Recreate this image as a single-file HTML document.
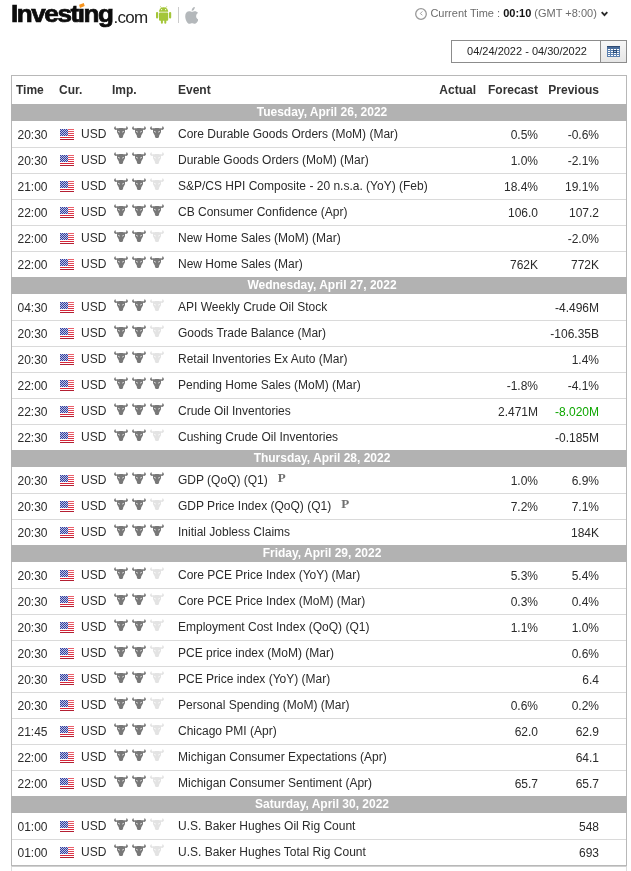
<!DOCTYPE html>
<html><head><meta charset="utf-8"><title>Economic Calendar</title>
<style>
*{box-sizing:border-box}
html,body{margin:0;padding:0;background:#fff}
body{width:631px;height:871px;position:relative;overflow:hidden;font-family:"Liberation Sans",Arial,sans-serif;font-size:12px;color:#2b2b2b}
#logo{position:absolute;left:12px;top:0;height:30px;white-space:nowrap}
#logo .inv{position:absolute;left:-0.7px;top:-1.3px;font-weight:bold;font-size:23.7px;line-height:30px;letter-spacing:-1.3px;color:#0c0c0c;-webkit-text-stroke:0.7px #0c0c0c;transform:scaleX(1.1);transform-origin:0 0}
#logo .com{position:absolute;left:101.5px;top:3px;font-size:17px;line-height:30px;color:#222;letter-spacing:-0.75px}
#logo .acc{position:absolute;left:67.3px;top:2.6px;width:6px;height:5px}
#android{position:absolute;left:156px;top:6px}
#sep{position:absolute;left:178px;top:7px;width:1px;height:16px;background:#ccc}
#apple{position:absolute;left:184.6px;top:6.5px}
#ct{position:absolute;left:415px;top:7px;height:14px;font-size:11px;line-height:14px;color:#6c6c6c;white-space:nowrap}
#ct svg{position:absolute;left:0;top:1px}
#ct .tx{position:absolute;left:15.4px;top:-1px}
#ct b{color:#111}
#ct .chev{position:absolute;left:186px;top:4px}
#dp{position:absolute;left:451px;top:40px;width:176px;height:23px;border:1px solid #8c8c8c;background:#fff}
#dp .v{position:absolute;left:1px;top:0;width:148px;height:21px;line-height:21px;text-align:center;font-size:11px;color:#222}
#dp .btn{position:absolute;left:148px;top:0;width:26px;height:21px;border-left:1px solid #8c8c8c;background:linear-gradient(#f7f7f7,#e6e6e6)}
#dp .btn svg{position:absolute;left:6px;top:5px}
#tbl{position:absolute;left:11px;top:75px;width:616px;height:791px;border:1px solid #b8b8b8}
#ft{position:absolute;left:11px;top:866px;width:616px;height:10px;border:1px solid #dcdcdc;border-top-color:#d0d0d0}
.hd{height:28px;position:relative;font-weight:bold;line-height:28px;color:#333}
.hd span{position:absolute;top:0}
.day{height:17px;background:#b2b2b2;color:#fff;font-weight:bold;text-align:center;line-height:17px;margin:0 -1px;padding-left:6px}
.r{height:26px;position:relative;border-top:1px solid #dadada;line-height:24px;white-space:nowrap}
.r.first{border-top-color:#fff}
.r>span{position:absolute;top:0;height:24px}
.r .t{left:5.5px;top:1px}
.fl{position:absolute;left:48px;top:7px}
.r .c{left:69px}
.r .imp{left:102px;top:4px;height:12px;line-height:0}
.imp svg{position:absolute;top:0}
.imp svg:nth-child(1){left:0}
.imp svg:nth-child(2){left:18px}
.imp svg:nth-child(3){left:36px}
.b1 path{fill:#787878}.b0 path{fill:#e3e3e3}
.b1 .e,.b0 .e{fill:#fff}
.r .ev{left:166px}
.r .a{right:150px;top:1px}
.r .f{right:88px;top:1px}
.r .p{right:27px;top:1px}
.g{color:#0ea600}
.pm{font-family:"Liberation Serif",serif;font-weight:bold;font-size:13px;color:#707070;margin-left:10px;position:relative;top:-2px;line-height:1}
</style></head><body>
<div id="logo"><span class="inv">Invest&#305;ng</span><svg class="acc" viewBox="0 0 6 5"><path d="M0.1,1.8 L4.8,0 L5.7,3 L1,5 Z" fill="#f7941d"/></svg><span class="com">.com</span></div>
<svg id="android" width="16" height="18" viewBox="0 0 16 18"><g fill="#a4c639"><path d="M3,5.7 A4.6,4.4 0 0 1 12.2,5.7 Z"/><rect x="3" y="6.4" width="9.2" height="8.4" rx="1"/><rect x="0" y="6" width="2.2" height="6.6" rx="1.1"/><rect x="13" y="6" width="2.2" height="6.6" rx="1.1"/><rect x="4.9" y="13" width="2" height="4.8" rx="1"/><rect x="8.3" y="13" width="2" height="4.8" rx="1"/><path d="M4.3,0.2 L5.6,2 M10.9,0.2 L9.6,2" stroke="#a4c639" stroke-width="0.6" fill="none"/></g><circle cx="5.6" cy="3.6" r="0.6" fill="#fff"/><circle cx="9.6" cy="3.6" r="0.6" fill="#fff"/></svg>
<div id="sep"></div>
<svg id="apple" width="13.8" height="17" viewBox="0 0 13 16"><g fill="#b4b8bb"><path d="M9.3,3.9 C8.4,3.9 7.4,4.5 6.7,4.5 C6,4.5 5,3.9 4,3.9 C2,3.9 0.2,5.6 0.2,8.6 C0.2,11.9 2.4,15.8 4.2,15.8 C5,15.8 5.7,15.2 6.7,15.2 C7.7,15.2 8.2,15.8 9.2,15.8 C10.8,15.8 12.2,13.2 12.7,11.8 C11.3,11.2 10.5,10 10.5,8.6 C10.5,7.3 11.2,6.2 12.3,5.6 C11.6,4.5 10.4,3.9 9.3,3.9 Z"/><path d="M9.2,0 C9.3,1 8.9,1.9 8.4,2.5 C7.9,3.1 7.1,3.6 6.3,3.5 C6.2,2.6 6.6,1.7 7.1,1.1 C7.6,0.5 8.5,0.05 9.2,0 Z"/></g></svg>
<div id="ct"><svg width="12" height="12" viewBox="0 0 12 12"><circle cx="6" cy="6" r="5.3" fill="none" stroke="#999" stroke-width="1.3"/><path d="M7.4,3.4 L5.3,5.5 L7.4,7.2" fill="none" stroke="#999" stroke-width="0.9"/></svg><span class="tx">Current Time : <b>00:10</b> (GMT +8:00)</span><svg class="chev" width="7" height="6" viewBox="0 0 7 6"><path d="M0.7,1.2 L3.5,4.2 L6.3,1.2" fill="none" stroke="#2a2a2a" stroke-width="1.8"/></svg></div>
<div id="dp"><div class="v">04/24/2022 - 04/30/2022</div><div class="btn"><svg width="13" height="11" viewBox="0 0 13 11"><rect width="13" height="11" fill="#5b80b0"/><rect width="13" height="1" fill="#2d4a73"/><rect y="1" width="13" height="2" fill="#4a6d9c"/><g fill="#fff"><rect x="1" y="3" width="2" height="1"/><rect x="4" y="3" width="2" height="1"/><rect x="7" y="3" width="2" height="1"/><rect x="10" y="3" width="2" height="1"/><rect x="1" y="5" width="2" height="1"/><rect x="4" y="5" width="2" height="1"/><rect x="10" y="5" width="2" height="1"/><rect x="1" y="7" width="2" height="1"/><rect x="4" y="7" width="2" height="1"/><rect x="7" y="7" width="2" height="1"/><rect x="10" y="7" width="2" height="1"/><rect x="1" y="9" width="2" height="1"/><rect x="4" y="9" width="2" height="1"/><rect x="7" y="9" width="2" height="1"/><rect x="10" y="9" width="2" height="1"/></g><rect x="6.5" y="4.5" width="3" height="2" fill="#9cc4f0" stroke="#2d4a73" stroke-width="1"/></svg></div></div>
<div id="tbl">
<div class="hd"><span style="left:4px">Time</span><span style="left:47px">Cur.</span><span style="left:100px">Imp.</span><span style="left:166px">Event</span><span style="right:150px">Actual</span><span style="right:88px">Forecast</span><span style="right:27px">Previous</span></div>
<div class="day">Tuesday, April 26, 2022</div>
<div class="r first"><span class="t">20:30</span><svg class="fl" viewBox="0 0 14 11" width="14" height="11"><rect width="14" height="11" fill="#fff"/><rect y="0" width="14" height="1" fill="#e9606b"/><rect y="2" width="14" height="1" fill="#e65764"/><rect y="4" width="14" height="1" fill="#e24858"/><rect y="6" width="14" height="1" fill="#de3448"/><rect y="8" width="14" height="1" fill="#d9283b"/><rect y="10" width="14" height="1" fill="#b41f32"/><rect width="8" height="7" fill="#343f9a"/><g fill="#b9bfe6"><rect x="1" y="0" width="1" height="1"/><rect x="3" y="0" width="1" height="1"/><rect x="5" y="0" width="1" height="1"/><rect x="7" y="0" width="1" height="1"/><rect x="0" y="1" width="1" height="1"/><rect x="2" y="1" width="1" height="1"/><rect x="4" y="1" width="1" height="1"/><rect x="6" y="1" width="1" height="1"/><rect x="1" y="2" width="1" height="1"/><rect x="3" y="2" width="1" height="1"/><rect x="5" y="2" width="1" height="1"/><rect x="7" y="2" width="1" height="1"/><rect x="0" y="3" width="1" height="1"/><rect x="2" y="3" width="1" height="1"/><rect x="4" y="3" width="1" height="1"/><rect x="6" y="3" width="1" height="1"/><rect x="1" y="4" width="1" height="1"/><rect x="3" y="4" width="1" height="1"/><rect x="5" y="4" width="1" height="1"/><rect x="7" y="4" width="1" height="1"/><rect x="0" y="5" width="1" height="1"/><rect x="2" y="5" width="1" height="1"/><rect x="4" y="5" width="1" height="1"/><rect x="6" y="5" width="1" height="1"/><rect x="1" y="6" width="1" height="1"/><rect x="3" y="6" width="1" height="1"/><rect x="5" y="6" width="1" height="1"/><rect x="7" y="6" width="1" height="1"/></g></svg><span class="c">USD</span><span class="imp"><svg class="b1" viewBox="0 0 14 12" width="14" height="12"><path d="M1.4,0 C0.5,0.8 -0.3,2.1 0.3,3.1 C0.9,4.1 2.2,4 3,3.8 L3,6.2 L4.8,9.4 L5,10.9 C5.4,11.9 6.3,12.1 7,12.1 C7.7,12.1 8.6,11.9 9,10.9 L9.2,9.4 L11,6.2 L11,3.8 C11.8,4 13.1,4.1 13.7,3.1 C14.3,2.1 13.5,0.8 12.6,0 C12.4,1 12.3,2 11.5,2.4 C10.5,2.2 9,1.9 7,1.9 C5,1.9 3.5,2.2 2.5,2.4 C1.7,2 1.6,1 1.4,0 Z"/><path class="e" d="M4.1,4.7 L6,5.9 L5.8,6.6 L4.3,5.8 Z M9.9,4.7 L8,5.9 L8.2,6.6 L9.7,5.8 Z"/></svg><svg class="b1" viewBox="0 0 14 12" width="14" height="12"><path d="M1.4,0 C0.5,0.8 -0.3,2.1 0.3,3.1 C0.9,4.1 2.2,4 3,3.8 L3,6.2 L4.8,9.4 L5,10.9 C5.4,11.9 6.3,12.1 7,12.1 C7.7,12.1 8.6,11.9 9,10.9 L9.2,9.4 L11,6.2 L11,3.8 C11.8,4 13.1,4.1 13.7,3.1 C14.3,2.1 13.5,0.8 12.6,0 C12.4,1 12.3,2 11.5,2.4 C10.5,2.2 9,1.9 7,1.9 C5,1.9 3.5,2.2 2.5,2.4 C1.7,2 1.6,1 1.4,0 Z"/><path class="e" d="M4.1,4.7 L6,5.9 L5.8,6.6 L4.3,5.8 Z M9.9,4.7 L8,5.9 L8.2,6.6 L9.7,5.8 Z"/></svg><svg class="b1" viewBox="0 0 14 12" width="14" height="12"><path d="M1.4,0 C0.5,0.8 -0.3,2.1 0.3,3.1 C0.9,4.1 2.2,4 3,3.8 L3,6.2 L4.8,9.4 L5,10.9 C5.4,11.9 6.3,12.1 7,12.1 C7.7,12.1 8.6,11.9 9,10.9 L9.2,9.4 L11,6.2 L11,3.8 C11.8,4 13.1,4.1 13.7,3.1 C14.3,2.1 13.5,0.8 12.6,0 C12.4,1 12.3,2 11.5,2.4 C10.5,2.2 9,1.9 7,1.9 C5,1.9 3.5,2.2 2.5,2.4 C1.7,2 1.6,1 1.4,0 Z"/><path class="e" d="M4.1,4.7 L6,5.9 L5.8,6.6 L4.3,5.8 Z M9.9,4.7 L8,5.9 L8.2,6.6 L9.7,5.8 Z"/></svg></span><span class="ev">Core Durable Goods Orders (MoM) (Mar)</span><span class="a"></span><span class="f">0.5%</span><span class="p">-0.6%</span></div>
<div class="r"><span class="t">20:30</span><svg class="fl" viewBox="0 0 14 11" width="14" height="11"><rect width="14" height="11" fill="#fff"/><rect y="0" width="14" height="1" fill="#e9606b"/><rect y="2" width="14" height="1" fill="#e65764"/><rect y="4" width="14" height="1" fill="#e24858"/><rect y="6" width="14" height="1" fill="#de3448"/><rect y="8" width="14" height="1" fill="#d9283b"/><rect y="10" width="14" height="1" fill="#b41f32"/><rect width="8" height="7" fill="#343f9a"/><g fill="#b9bfe6"><rect x="1" y="0" width="1" height="1"/><rect x="3" y="0" width="1" height="1"/><rect x="5" y="0" width="1" height="1"/><rect x="7" y="0" width="1" height="1"/><rect x="0" y="1" width="1" height="1"/><rect x="2" y="1" width="1" height="1"/><rect x="4" y="1" width="1" height="1"/><rect x="6" y="1" width="1" height="1"/><rect x="1" y="2" width="1" height="1"/><rect x="3" y="2" width="1" height="1"/><rect x="5" y="2" width="1" height="1"/><rect x="7" y="2" width="1" height="1"/><rect x="0" y="3" width="1" height="1"/><rect x="2" y="3" width="1" height="1"/><rect x="4" y="3" width="1" height="1"/><rect x="6" y="3" width="1" height="1"/><rect x="1" y="4" width="1" height="1"/><rect x="3" y="4" width="1" height="1"/><rect x="5" y="4" width="1" height="1"/><rect x="7" y="4" width="1" height="1"/><rect x="0" y="5" width="1" height="1"/><rect x="2" y="5" width="1" height="1"/><rect x="4" y="5" width="1" height="1"/><rect x="6" y="5" width="1" height="1"/><rect x="1" y="6" width="1" height="1"/><rect x="3" y="6" width="1" height="1"/><rect x="5" y="6" width="1" height="1"/><rect x="7" y="6" width="1" height="1"/></g></svg><span class="c">USD</span><span class="imp"><svg class="b1" viewBox="0 0 14 12" width="14" height="12"><path d="M1.4,0 C0.5,0.8 -0.3,2.1 0.3,3.1 C0.9,4.1 2.2,4 3,3.8 L3,6.2 L4.8,9.4 L5,10.9 C5.4,11.9 6.3,12.1 7,12.1 C7.7,12.1 8.6,11.9 9,10.9 L9.2,9.4 L11,6.2 L11,3.8 C11.8,4 13.1,4.1 13.7,3.1 C14.3,2.1 13.5,0.8 12.6,0 C12.4,1 12.3,2 11.5,2.4 C10.5,2.2 9,1.9 7,1.9 C5,1.9 3.5,2.2 2.5,2.4 C1.7,2 1.6,1 1.4,0 Z"/><path class="e" d="M4.1,4.7 L6,5.9 L5.8,6.6 L4.3,5.8 Z M9.9,4.7 L8,5.9 L8.2,6.6 L9.7,5.8 Z"/></svg><svg class="b1" viewBox="0 0 14 12" width="14" height="12"><path d="M1.4,0 C0.5,0.8 -0.3,2.1 0.3,3.1 C0.9,4.1 2.2,4 3,3.8 L3,6.2 L4.8,9.4 L5,10.9 C5.4,11.9 6.3,12.1 7,12.1 C7.7,12.1 8.6,11.9 9,10.9 L9.2,9.4 L11,6.2 L11,3.8 C11.8,4 13.1,4.1 13.7,3.1 C14.3,2.1 13.5,0.8 12.6,0 C12.4,1 12.3,2 11.5,2.4 C10.5,2.2 9,1.9 7,1.9 C5,1.9 3.5,2.2 2.5,2.4 C1.7,2 1.6,1 1.4,0 Z"/><path class="e" d="M4.1,4.7 L6,5.9 L5.8,6.6 L4.3,5.8 Z M9.9,4.7 L8,5.9 L8.2,6.6 L9.7,5.8 Z"/></svg><svg class="b0" viewBox="0 0 14 12" width="14" height="12"><path d="M1.4,0 C0.5,0.8 -0.3,2.1 0.3,3.1 C0.9,4.1 2.2,4 3,3.8 L3,6.2 L4.8,9.4 L5,10.9 C5.4,11.9 6.3,12.1 7,12.1 C7.7,12.1 8.6,11.9 9,10.9 L9.2,9.4 L11,6.2 L11,3.8 C11.8,4 13.1,4.1 13.7,3.1 C14.3,2.1 13.5,0.8 12.6,0 C12.4,1 12.3,2 11.5,2.4 C10.5,2.2 9,1.9 7,1.9 C5,1.9 3.5,2.2 2.5,2.4 C1.7,2 1.6,1 1.4,0 Z"/><path class="e" d="M4.1,4.7 L6,5.9 L5.8,6.6 L4.3,5.8 Z M9.9,4.7 L8,5.9 L8.2,6.6 L9.7,5.8 Z"/></svg></span><span class="ev">Durable Goods Orders (MoM) (Mar)</span><span class="a"></span><span class="f">1.0%</span><span class="p">-2.1%</span></div>
<div class="r"><span class="t">21:00</span><svg class="fl" viewBox="0 0 14 11" width="14" height="11"><rect width="14" height="11" fill="#fff"/><rect y="0" width="14" height="1" fill="#e9606b"/><rect y="2" width="14" height="1" fill="#e65764"/><rect y="4" width="14" height="1" fill="#e24858"/><rect y="6" width="14" height="1" fill="#de3448"/><rect y="8" width="14" height="1" fill="#d9283b"/><rect y="10" width="14" height="1" fill="#b41f32"/><rect width="8" height="7" fill="#343f9a"/><g fill="#b9bfe6"><rect x="1" y="0" width="1" height="1"/><rect x="3" y="0" width="1" height="1"/><rect x="5" y="0" width="1" height="1"/><rect x="7" y="0" width="1" height="1"/><rect x="0" y="1" width="1" height="1"/><rect x="2" y="1" width="1" height="1"/><rect x="4" y="1" width="1" height="1"/><rect x="6" y="1" width="1" height="1"/><rect x="1" y="2" width="1" height="1"/><rect x="3" y="2" width="1" height="1"/><rect x="5" y="2" width="1" height="1"/><rect x="7" y="2" width="1" height="1"/><rect x="0" y="3" width="1" height="1"/><rect x="2" y="3" width="1" height="1"/><rect x="4" y="3" width="1" height="1"/><rect x="6" y="3" width="1" height="1"/><rect x="1" y="4" width="1" height="1"/><rect x="3" y="4" width="1" height="1"/><rect x="5" y="4" width="1" height="1"/><rect x="7" y="4" width="1" height="1"/><rect x="0" y="5" width="1" height="1"/><rect x="2" y="5" width="1" height="1"/><rect x="4" y="5" width="1" height="1"/><rect x="6" y="5" width="1" height="1"/><rect x="1" y="6" width="1" height="1"/><rect x="3" y="6" width="1" height="1"/><rect x="5" y="6" width="1" height="1"/><rect x="7" y="6" width="1" height="1"/></g></svg><span class="c">USD</span><span class="imp"><svg class="b1" viewBox="0 0 14 12" width="14" height="12"><path d="M1.4,0 C0.5,0.8 -0.3,2.1 0.3,3.1 C0.9,4.1 2.2,4 3,3.8 L3,6.2 L4.8,9.4 L5,10.9 C5.4,11.9 6.3,12.1 7,12.1 C7.7,12.1 8.6,11.9 9,10.9 L9.2,9.4 L11,6.2 L11,3.8 C11.8,4 13.1,4.1 13.7,3.1 C14.3,2.1 13.5,0.8 12.6,0 C12.4,1 12.3,2 11.5,2.4 C10.5,2.2 9,1.9 7,1.9 C5,1.9 3.5,2.2 2.5,2.4 C1.7,2 1.6,1 1.4,0 Z"/><path class="e" d="M4.1,4.7 L6,5.9 L5.8,6.6 L4.3,5.8 Z M9.9,4.7 L8,5.9 L8.2,6.6 L9.7,5.8 Z"/></svg><svg class="b1" viewBox="0 0 14 12" width="14" height="12"><path d="M1.4,0 C0.5,0.8 -0.3,2.1 0.3,3.1 C0.9,4.1 2.2,4 3,3.8 L3,6.2 L4.8,9.4 L5,10.9 C5.4,11.9 6.3,12.1 7,12.1 C7.7,12.1 8.6,11.9 9,10.9 L9.2,9.4 L11,6.2 L11,3.8 C11.8,4 13.1,4.1 13.7,3.1 C14.3,2.1 13.5,0.8 12.6,0 C12.4,1 12.3,2 11.5,2.4 C10.5,2.2 9,1.9 7,1.9 C5,1.9 3.5,2.2 2.5,2.4 C1.7,2 1.6,1 1.4,0 Z"/><path class="e" d="M4.1,4.7 L6,5.9 L5.8,6.6 L4.3,5.8 Z M9.9,4.7 L8,5.9 L8.2,6.6 L9.7,5.8 Z"/></svg><svg class="b0" viewBox="0 0 14 12" width="14" height="12"><path d="M1.4,0 C0.5,0.8 -0.3,2.1 0.3,3.1 C0.9,4.1 2.2,4 3,3.8 L3,6.2 L4.8,9.4 L5,10.9 C5.4,11.9 6.3,12.1 7,12.1 C7.7,12.1 8.6,11.9 9,10.9 L9.2,9.4 L11,6.2 L11,3.8 C11.8,4 13.1,4.1 13.7,3.1 C14.3,2.1 13.5,0.8 12.6,0 C12.4,1 12.3,2 11.5,2.4 C10.5,2.2 9,1.9 7,1.9 C5,1.9 3.5,2.2 2.5,2.4 C1.7,2 1.6,1 1.4,0 Z"/><path class="e" d="M4.1,4.7 L6,5.9 L5.8,6.6 L4.3,5.8 Z M9.9,4.7 L8,5.9 L8.2,6.6 L9.7,5.8 Z"/></svg></span><span class="ev">S&amp;P/CS HPI Composite - 20 n.s.a. (YoY) (Feb)</span><span class="a"></span><span class="f">18.4%</span><span class="p">19.1%</span></div>
<div class="r"><span class="t">22:00</span><svg class="fl" viewBox="0 0 14 11" width="14" height="11"><rect width="14" height="11" fill="#fff"/><rect y="0" width="14" height="1" fill="#e9606b"/><rect y="2" width="14" height="1" fill="#e65764"/><rect y="4" width="14" height="1" fill="#e24858"/><rect y="6" width="14" height="1" fill="#de3448"/><rect y="8" width="14" height="1" fill="#d9283b"/><rect y="10" width="14" height="1" fill="#b41f32"/><rect width="8" height="7" fill="#343f9a"/><g fill="#b9bfe6"><rect x="1" y="0" width="1" height="1"/><rect x="3" y="0" width="1" height="1"/><rect x="5" y="0" width="1" height="1"/><rect x="7" y="0" width="1" height="1"/><rect x="0" y="1" width="1" height="1"/><rect x="2" y="1" width="1" height="1"/><rect x="4" y="1" width="1" height="1"/><rect x="6" y="1" width="1" height="1"/><rect x="1" y="2" width="1" height="1"/><rect x="3" y="2" width="1" height="1"/><rect x="5" y="2" width="1" height="1"/><rect x="7" y="2" width="1" height="1"/><rect x="0" y="3" width="1" height="1"/><rect x="2" y="3" width="1" height="1"/><rect x="4" y="3" width="1" height="1"/><rect x="6" y="3" width="1" height="1"/><rect x="1" y="4" width="1" height="1"/><rect x="3" y="4" width="1" height="1"/><rect x="5" y="4" width="1" height="1"/><rect x="7" y="4" width="1" height="1"/><rect x="0" y="5" width="1" height="1"/><rect x="2" y="5" width="1" height="1"/><rect x="4" y="5" width="1" height="1"/><rect x="6" y="5" width="1" height="1"/><rect x="1" y="6" width="1" height="1"/><rect x="3" y="6" width="1" height="1"/><rect x="5" y="6" width="1" height="1"/><rect x="7" y="6" width="1" height="1"/></g></svg><span class="c">USD</span><span class="imp"><svg class="b1" viewBox="0 0 14 12" width="14" height="12"><path d="M1.4,0 C0.5,0.8 -0.3,2.1 0.3,3.1 C0.9,4.1 2.2,4 3,3.8 L3,6.2 L4.8,9.4 L5,10.9 C5.4,11.9 6.3,12.1 7,12.1 C7.7,12.1 8.6,11.9 9,10.9 L9.2,9.4 L11,6.2 L11,3.8 C11.8,4 13.1,4.1 13.7,3.1 C14.3,2.1 13.5,0.8 12.6,0 C12.4,1 12.3,2 11.5,2.4 C10.5,2.2 9,1.9 7,1.9 C5,1.9 3.5,2.2 2.5,2.4 C1.7,2 1.6,1 1.4,0 Z"/><path class="e" d="M4.1,4.7 L6,5.9 L5.8,6.6 L4.3,5.8 Z M9.9,4.7 L8,5.9 L8.2,6.6 L9.7,5.8 Z"/></svg><svg class="b1" viewBox="0 0 14 12" width="14" height="12"><path d="M1.4,0 C0.5,0.8 -0.3,2.1 0.3,3.1 C0.9,4.1 2.2,4 3,3.8 L3,6.2 L4.8,9.4 L5,10.9 C5.4,11.9 6.3,12.1 7,12.1 C7.7,12.1 8.6,11.9 9,10.9 L9.2,9.4 L11,6.2 L11,3.8 C11.8,4 13.1,4.1 13.7,3.1 C14.3,2.1 13.5,0.8 12.6,0 C12.4,1 12.3,2 11.5,2.4 C10.5,2.2 9,1.9 7,1.9 C5,1.9 3.5,2.2 2.5,2.4 C1.7,2 1.6,1 1.4,0 Z"/><path class="e" d="M4.1,4.7 L6,5.9 L5.8,6.6 L4.3,5.8 Z M9.9,4.7 L8,5.9 L8.2,6.6 L9.7,5.8 Z"/></svg><svg class="b1" viewBox="0 0 14 12" width="14" height="12"><path d="M1.4,0 C0.5,0.8 -0.3,2.1 0.3,3.1 C0.9,4.1 2.2,4 3,3.8 L3,6.2 L4.8,9.4 L5,10.9 C5.4,11.9 6.3,12.1 7,12.1 C7.7,12.1 8.6,11.9 9,10.9 L9.2,9.4 L11,6.2 L11,3.8 C11.8,4 13.1,4.1 13.7,3.1 C14.3,2.1 13.5,0.8 12.6,0 C12.4,1 12.3,2 11.5,2.4 C10.5,2.2 9,1.9 7,1.9 C5,1.9 3.5,2.2 2.5,2.4 C1.7,2 1.6,1 1.4,0 Z"/><path class="e" d="M4.1,4.7 L6,5.9 L5.8,6.6 L4.3,5.8 Z M9.9,4.7 L8,5.9 L8.2,6.6 L9.7,5.8 Z"/></svg></span><span class="ev">CB Consumer Confidence (Apr)</span><span class="a"></span><span class="f">106.0</span><span class="p">107.2</span></div>
<div class="r"><span class="t">22:00</span><svg class="fl" viewBox="0 0 14 11" width="14" height="11"><rect width="14" height="11" fill="#fff"/><rect y="0" width="14" height="1" fill="#e9606b"/><rect y="2" width="14" height="1" fill="#e65764"/><rect y="4" width="14" height="1" fill="#e24858"/><rect y="6" width="14" height="1" fill="#de3448"/><rect y="8" width="14" height="1" fill="#d9283b"/><rect y="10" width="14" height="1" fill="#b41f32"/><rect width="8" height="7" fill="#343f9a"/><g fill="#b9bfe6"><rect x="1" y="0" width="1" height="1"/><rect x="3" y="0" width="1" height="1"/><rect x="5" y="0" width="1" height="1"/><rect x="7" y="0" width="1" height="1"/><rect x="0" y="1" width="1" height="1"/><rect x="2" y="1" width="1" height="1"/><rect x="4" y="1" width="1" height="1"/><rect x="6" y="1" width="1" height="1"/><rect x="1" y="2" width="1" height="1"/><rect x="3" y="2" width="1" height="1"/><rect x="5" y="2" width="1" height="1"/><rect x="7" y="2" width="1" height="1"/><rect x="0" y="3" width="1" height="1"/><rect x="2" y="3" width="1" height="1"/><rect x="4" y="3" width="1" height="1"/><rect x="6" y="3" width="1" height="1"/><rect x="1" y="4" width="1" height="1"/><rect x="3" y="4" width="1" height="1"/><rect x="5" y="4" width="1" height="1"/><rect x="7" y="4" width="1" height="1"/><rect x="0" y="5" width="1" height="1"/><rect x="2" y="5" width="1" height="1"/><rect x="4" y="5" width="1" height="1"/><rect x="6" y="5" width="1" height="1"/><rect x="1" y="6" width="1" height="1"/><rect x="3" y="6" width="1" height="1"/><rect x="5" y="6" width="1" height="1"/><rect x="7" y="6" width="1" height="1"/></g></svg><span class="c">USD</span><span class="imp"><svg class="b1" viewBox="0 0 14 12" width="14" height="12"><path d="M1.4,0 C0.5,0.8 -0.3,2.1 0.3,3.1 C0.9,4.1 2.2,4 3,3.8 L3,6.2 L4.8,9.4 L5,10.9 C5.4,11.9 6.3,12.1 7,12.1 C7.7,12.1 8.6,11.9 9,10.9 L9.2,9.4 L11,6.2 L11,3.8 C11.8,4 13.1,4.1 13.7,3.1 C14.3,2.1 13.5,0.8 12.6,0 C12.4,1 12.3,2 11.5,2.4 C10.5,2.2 9,1.9 7,1.9 C5,1.9 3.5,2.2 2.5,2.4 C1.7,2 1.6,1 1.4,0 Z"/><path class="e" d="M4.1,4.7 L6,5.9 L5.8,6.6 L4.3,5.8 Z M9.9,4.7 L8,5.9 L8.2,6.6 L9.7,5.8 Z"/></svg><svg class="b1" viewBox="0 0 14 12" width="14" height="12"><path d="M1.4,0 C0.5,0.8 -0.3,2.1 0.3,3.1 C0.9,4.1 2.2,4 3,3.8 L3,6.2 L4.8,9.4 L5,10.9 C5.4,11.9 6.3,12.1 7,12.1 C7.7,12.1 8.6,11.9 9,10.9 L9.2,9.4 L11,6.2 L11,3.8 C11.8,4 13.1,4.1 13.7,3.1 C14.3,2.1 13.5,0.8 12.6,0 C12.4,1 12.3,2 11.5,2.4 C10.5,2.2 9,1.9 7,1.9 C5,1.9 3.5,2.2 2.5,2.4 C1.7,2 1.6,1 1.4,0 Z"/><path class="e" d="M4.1,4.7 L6,5.9 L5.8,6.6 L4.3,5.8 Z M9.9,4.7 L8,5.9 L8.2,6.6 L9.7,5.8 Z"/></svg><svg class="b0" viewBox="0 0 14 12" width="14" height="12"><path d="M1.4,0 C0.5,0.8 -0.3,2.1 0.3,3.1 C0.9,4.1 2.2,4 3,3.8 L3,6.2 L4.8,9.4 L5,10.9 C5.4,11.9 6.3,12.1 7,12.1 C7.7,12.1 8.6,11.9 9,10.9 L9.2,9.4 L11,6.2 L11,3.8 C11.8,4 13.1,4.1 13.7,3.1 C14.3,2.1 13.5,0.8 12.6,0 C12.4,1 12.3,2 11.5,2.4 C10.5,2.2 9,1.9 7,1.9 C5,1.9 3.5,2.2 2.5,2.4 C1.7,2 1.6,1 1.4,0 Z"/><path class="e" d="M4.1,4.7 L6,5.9 L5.8,6.6 L4.3,5.8 Z M9.9,4.7 L8,5.9 L8.2,6.6 L9.7,5.8 Z"/></svg></span><span class="ev">New Home Sales (MoM) (Mar)</span><span class="a"></span><span class="f"></span><span class="p">-2.0%</span></div>
<div class="r"><span class="t">22:00</span><svg class="fl" viewBox="0 0 14 11" width="14" height="11"><rect width="14" height="11" fill="#fff"/><rect y="0" width="14" height="1" fill="#e9606b"/><rect y="2" width="14" height="1" fill="#e65764"/><rect y="4" width="14" height="1" fill="#e24858"/><rect y="6" width="14" height="1" fill="#de3448"/><rect y="8" width="14" height="1" fill="#d9283b"/><rect y="10" width="14" height="1" fill="#b41f32"/><rect width="8" height="7" fill="#343f9a"/><g fill="#b9bfe6"><rect x="1" y="0" width="1" height="1"/><rect x="3" y="0" width="1" height="1"/><rect x="5" y="0" width="1" height="1"/><rect x="7" y="0" width="1" height="1"/><rect x="0" y="1" width="1" height="1"/><rect x="2" y="1" width="1" height="1"/><rect x="4" y="1" width="1" height="1"/><rect x="6" y="1" width="1" height="1"/><rect x="1" y="2" width="1" height="1"/><rect x="3" y="2" width="1" height="1"/><rect x="5" y="2" width="1" height="1"/><rect x="7" y="2" width="1" height="1"/><rect x="0" y="3" width="1" height="1"/><rect x="2" y="3" width="1" height="1"/><rect x="4" y="3" width="1" height="1"/><rect x="6" y="3" width="1" height="1"/><rect x="1" y="4" width="1" height="1"/><rect x="3" y="4" width="1" height="1"/><rect x="5" y="4" width="1" height="1"/><rect x="7" y="4" width="1" height="1"/><rect x="0" y="5" width="1" height="1"/><rect x="2" y="5" width="1" height="1"/><rect x="4" y="5" width="1" height="1"/><rect x="6" y="5" width="1" height="1"/><rect x="1" y="6" width="1" height="1"/><rect x="3" y="6" width="1" height="1"/><rect x="5" y="6" width="1" height="1"/><rect x="7" y="6" width="1" height="1"/></g></svg><span class="c">USD</span><span class="imp"><svg class="b1" viewBox="0 0 14 12" width="14" height="12"><path d="M1.4,0 C0.5,0.8 -0.3,2.1 0.3,3.1 C0.9,4.1 2.2,4 3,3.8 L3,6.2 L4.8,9.4 L5,10.9 C5.4,11.9 6.3,12.1 7,12.1 C7.7,12.1 8.6,11.9 9,10.9 L9.2,9.4 L11,6.2 L11,3.8 C11.8,4 13.1,4.1 13.7,3.1 C14.3,2.1 13.5,0.8 12.6,0 C12.4,1 12.3,2 11.5,2.4 C10.5,2.2 9,1.9 7,1.9 C5,1.9 3.5,2.2 2.5,2.4 C1.7,2 1.6,1 1.4,0 Z"/><path class="e" d="M4.1,4.7 L6,5.9 L5.8,6.6 L4.3,5.8 Z M9.9,4.7 L8,5.9 L8.2,6.6 L9.7,5.8 Z"/></svg><svg class="b1" viewBox="0 0 14 12" width="14" height="12"><path d="M1.4,0 C0.5,0.8 -0.3,2.1 0.3,3.1 C0.9,4.1 2.2,4 3,3.8 L3,6.2 L4.8,9.4 L5,10.9 C5.4,11.9 6.3,12.1 7,12.1 C7.7,12.1 8.6,11.9 9,10.9 L9.2,9.4 L11,6.2 L11,3.8 C11.8,4 13.1,4.1 13.7,3.1 C14.3,2.1 13.5,0.8 12.6,0 C12.4,1 12.3,2 11.5,2.4 C10.5,2.2 9,1.9 7,1.9 C5,1.9 3.5,2.2 2.5,2.4 C1.7,2 1.6,1 1.4,0 Z"/><path class="e" d="M4.1,4.7 L6,5.9 L5.8,6.6 L4.3,5.8 Z M9.9,4.7 L8,5.9 L8.2,6.6 L9.7,5.8 Z"/></svg><svg class="b1" viewBox="0 0 14 12" width="14" height="12"><path d="M1.4,0 C0.5,0.8 -0.3,2.1 0.3,3.1 C0.9,4.1 2.2,4 3,3.8 L3,6.2 L4.8,9.4 L5,10.9 C5.4,11.9 6.3,12.1 7,12.1 C7.7,12.1 8.6,11.9 9,10.9 L9.2,9.4 L11,6.2 L11,3.8 C11.8,4 13.1,4.1 13.7,3.1 C14.3,2.1 13.5,0.8 12.6,0 C12.4,1 12.3,2 11.5,2.4 C10.5,2.2 9,1.9 7,1.9 C5,1.9 3.5,2.2 2.5,2.4 C1.7,2 1.6,1 1.4,0 Z"/><path class="e" d="M4.1,4.7 L6,5.9 L5.8,6.6 L4.3,5.8 Z M9.9,4.7 L8,5.9 L8.2,6.6 L9.7,5.8 Z"/></svg></span><span class="ev">New Home Sales (Mar)</span><span class="a"></span><span class="f">762K</span><span class="p">772K</span></div>
<div class="day">Wednesday, April 27, 2022</div>
<div class="r first"><span class="t">04:30</span><svg class="fl" viewBox="0 0 14 11" width="14" height="11"><rect width="14" height="11" fill="#fff"/><rect y="0" width="14" height="1" fill="#e9606b"/><rect y="2" width="14" height="1" fill="#e65764"/><rect y="4" width="14" height="1" fill="#e24858"/><rect y="6" width="14" height="1" fill="#de3448"/><rect y="8" width="14" height="1" fill="#d9283b"/><rect y="10" width="14" height="1" fill="#b41f32"/><rect width="8" height="7" fill="#343f9a"/><g fill="#b9bfe6"><rect x="1" y="0" width="1" height="1"/><rect x="3" y="0" width="1" height="1"/><rect x="5" y="0" width="1" height="1"/><rect x="7" y="0" width="1" height="1"/><rect x="0" y="1" width="1" height="1"/><rect x="2" y="1" width="1" height="1"/><rect x="4" y="1" width="1" height="1"/><rect x="6" y="1" width="1" height="1"/><rect x="1" y="2" width="1" height="1"/><rect x="3" y="2" width="1" height="1"/><rect x="5" y="2" width="1" height="1"/><rect x="7" y="2" width="1" height="1"/><rect x="0" y="3" width="1" height="1"/><rect x="2" y="3" width="1" height="1"/><rect x="4" y="3" width="1" height="1"/><rect x="6" y="3" width="1" height="1"/><rect x="1" y="4" width="1" height="1"/><rect x="3" y="4" width="1" height="1"/><rect x="5" y="4" width="1" height="1"/><rect x="7" y="4" width="1" height="1"/><rect x="0" y="5" width="1" height="1"/><rect x="2" y="5" width="1" height="1"/><rect x="4" y="5" width="1" height="1"/><rect x="6" y="5" width="1" height="1"/><rect x="1" y="6" width="1" height="1"/><rect x="3" y="6" width="1" height="1"/><rect x="5" y="6" width="1" height="1"/><rect x="7" y="6" width="1" height="1"/></g></svg><span class="c">USD</span><span class="imp"><svg class="b1" viewBox="0 0 14 12" width="14" height="12"><path d="M1.4,0 C0.5,0.8 -0.3,2.1 0.3,3.1 C0.9,4.1 2.2,4 3,3.8 L3,6.2 L4.8,9.4 L5,10.9 C5.4,11.9 6.3,12.1 7,12.1 C7.7,12.1 8.6,11.9 9,10.9 L9.2,9.4 L11,6.2 L11,3.8 C11.8,4 13.1,4.1 13.7,3.1 C14.3,2.1 13.5,0.8 12.6,0 C12.4,1 12.3,2 11.5,2.4 C10.5,2.2 9,1.9 7,1.9 C5,1.9 3.5,2.2 2.5,2.4 C1.7,2 1.6,1 1.4,0 Z"/><path class="e" d="M4.1,4.7 L6,5.9 L5.8,6.6 L4.3,5.8 Z M9.9,4.7 L8,5.9 L8.2,6.6 L9.7,5.8 Z"/></svg><svg class="b1" viewBox="0 0 14 12" width="14" height="12"><path d="M1.4,0 C0.5,0.8 -0.3,2.1 0.3,3.1 C0.9,4.1 2.2,4 3,3.8 L3,6.2 L4.8,9.4 L5,10.9 C5.4,11.9 6.3,12.1 7,12.1 C7.7,12.1 8.6,11.9 9,10.9 L9.2,9.4 L11,6.2 L11,3.8 C11.8,4 13.1,4.1 13.7,3.1 C14.3,2.1 13.5,0.8 12.6,0 C12.4,1 12.3,2 11.5,2.4 C10.5,2.2 9,1.9 7,1.9 C5,1.9 3.5,2.2 2.5,2.4 C1.7,2 1.6,1 1.4,0 Z"/><path class="e" d="M4.1,4.7 L6,5.9 L5.8,6.6 L4.3,5.8 Z M9.9,4.7 L8,5.9 L8.2,6.6 L9.7,5.8 Z"/></svg><svg class="b0" viewBox="0 0 14 12" width="14" height="12"><path d="M1.4,0 C0.5,0.8 -0.3,2.1 0.3,3.1 C0.9,4.1 2.2,4 3,3.8 L3,6.2 L4.8,9.4 L5,10.9 C5.4,11.9 6.3,12.1 7,12.1 C7.7,12.1 8.6,11.9 9,10.9 L9.2,9.4 L11,6.2 L11,3.8 C11.8,4 13.1,4.1 13.7,3.1 C14.3,2.1 13.5,0.8 12.6,0 C12.4,1 12.3,2 11.5,2.4 C10.5,2.2 9,1.9 7,1.9 C5,1.9 3.5,2.2 2.5,2.4 C1.7,2 1.6,1 1.4,0 Z"/><path class="e" d="M4.1,4.7 L6,5.9 L5.8,6.6 L4.3,5.8 Z M9.9,4.7 L8,5.9 L8.2,6.6 L9.7,5.8 Z"/></svg></span><span class="ev">API Weekly Crude Oil Stock</span><span class="a"></span><span class="f"></span><span class="p">-4.496M</span></div>
<div class="r"><span class="t">20:30</span><svg class="fl" viewBox="0 0 14 11" width="14" height="11"><rect width="14" height="11" fill="#fff"/><rect y="0" width="14" height="1" fill="#e9606b"/><rect y="2" width="14" height="1" fill="#e65764"/><rect y="4" width="14" height="1" fill="#e24858"/><rect y="6" width="14" height="1" fill="#de3448"/><rect y="8" width="14" height="1" fill="#d9283b"/><rect y="10" width="14" height="1" fill="#b41f32"/><rect width="8" height="7" fill="#343f9a"/><g fill="#b9bfe6"><rect x="1" y="0" width="1" height="1"/><rect x="3" y="0" width="1" height="1"/><rect x="5" y="0" width="1" height="1"/><rect x="7" y="0" width="1" height="1"/><rect x="0" y="1" width="1" height="1"/><rect x="2" y="1" width="1" height="1"/><rect x="4" y="1" width="1" height="1"/><rect x="6" y="1" width="1" height="1"/><rect x="1" y="2" width="1" height="1"/><rect x="3" y="2" width="1" height="1"/><rect x="5" y="2" width="1" height="1"/><rect x="7" y="2" width="1" height="1"/><rect x="0" y="3" width="1" height="1"/><rect x="2" y="3" width="1" height="1"/><rect x="4" y="3" width="1" height="1"/><rect x="6" y="3" width="1" height="1"/><rect x="1" y="4" width="1" height="1"/><rect x="3" y="4" width="1" height="1"/><rect x="5" y="4" width="1" height="1"/><rect x="7" y="4" width="1" height="1"/><rect x="0" y="5" width="1" height="1"/><rect x="2" y="5" width="1" height="1"/><rect x="4" y="5" width="1" height="1"/><rect x="6" y="5" width="1" height="1"/><rect x="1" y="6" width="1" height="1"/><rect x="3" y="6" width="1" height="1"/><rect x="5" y="6" width="1" height="1"/><rect x="7" y="6" width="1" height="1"/></g></svg><span class="c">USD</span><span class="imp"><svg class="b1" viewBox="0 0 14 12" width="14" height="12"><path d="M1.4,0 C0.5,0.8 -0.3,2.1 0.3,3.1 C0.9,4.1 2.2,4 3,3.8 L3,6.2 L4.8,9.4 L5,10.9 C5.4,11.9 6.3,12.1 7,12.1 C7.7,12.1 8.6,11.9 9,10.9 L9.2,9.4 L11,6.2 L11,3.8 C11.8,4 13.1,4.1 13.7,3.1 C14.3,2.1 13.5,0.8 12.6,0 C12.4,1 12.3,2 11.5,2.4 C10.5,2.2 9,1.9 7,1.9 C5,1.9 3.5,2.2 2.5,2.4 C1.7,2 1.6,1 1.4,0 Z"/><path class="e" d="M4.1,4.7 L6,5.9 L5.8,6.6 L4.3,5.8 Z M9.9,4.7 L8,5.9 L8.2,6.6 L9.7,5.8 Z"/></svg><svg class="b1" viewBox="0 0 14 12" width="14" height="12"><path d="M1.4,0 C0.5,0.8 -0.3,2.1 0.3,3.1 C0.9,4.1 2.2,4 3,3.8 L3,6.2 L4.8,9.4 L5,10.9 C5.4,11.9 6.3,12.1 7,12.1 C7.7,12.1 8.6,11.9 9,10.9 L9.2,9.4 L11,6.2 L11,3.8 C11.8,4 13.1,4.1 13.7,3.1 C14.3,2.1 13.5,0.8 12.6,0 C12.4,1 12.3,2 11.5,2.4 C10.5,2.2 9,1.9 7,1.9 C5,1.9 3.5,2.2 2.5,2.4 C1.7,2 1.6,1 1.4,0 Z"/><path class="e" d="M4.1,4.7 L6,5.9 L5.8,6.6 L4.3,5.8 Z M9.9,4.7 L8,5.9 L8.2,6.6 L9.7,5.8 Z"/></svg><svg class="b0" viewBox="0 0 14 12" width="14" height="12"><path d="M1.4,0 C0.5,0.8 -0.3,2.1 0.3,3.1 C0.9,4.1 2.2,4 3,3.8 L3,6.2 L4.8,9.4 L5,10.9 C5.4,11.9 6.3,12.1 7,12.1 C7.7,12.1 8.6,11.9 9,10.9 L9.2,9.4 L11,6.2 L11,3.8 C11.8,4 13.1,4.1 13.7,3.1 C14.3,2.1 13.5,0.8 12.6,0 C12.4,1 12.3,2 11.5,2.4 C10.5,2.2 9,1.9 7,1.9 C5,1.9 3.5,2.2 2.5,2.4 C1.7,2 1.6,1 1.4,0 Z"/><path class="e" d="M4.1,4.7 L6,5.9 L5.8,6.6 L4.3,5.8 Z M9.9,4.7 L8,5.9 L8.2,6.6 L9.7,5.8 Z"/></svg></span><span class="ev">Goods Trade Balance (Mar)</span><span class="a"></span><span class="f"></span><span class="p">-106.35B</span></div>
<div class="r"><span class="t">20:30</span><svg class="fl" viewBox="0 0 14 11" width="14" height="11"><rect width="14" height="11" fill="#fff"/><rect y="0" width="14" height="1" fill="#e9606b"/><rect y="2" width="14" height="1" fill="#e65764"/><rect y="4" width="14" height="1" fill="#e24858"/><rect y="6" width="14" height="1" fill="#de3448"/><rect y="8" width="14" height="1" fill="#d9283b"/><rect y="10" width="14" height="1" fill="#b41f32"/><rect width="8" height="7" fill="#343f9a"/><g fill="#b9bfe6"><rect x="1" y="0" width="1" height="1"/><rect x="3" y="0" width="1" height="1"/><rect x="5" y="0" width="1" height="1"/><rect x="7" y="0" width="1" height="1"/><rect x="0" y="1" width="1" height="1"/><rect x="2" y="1" width="1" height="1"/><rect x="4" y="1" width="1" height="1"/><rect x="6" y="1" width="1" height="1"/><rect x="1" y="2" width="1" height="1"/><rect x="3" y="2" width="1" height="1"/><rect x="5" y="2" width="1" height="1"/><rect x="7" y="2" width="1" height="1"/><rect x="0" y="3" width="1" height="1"/><rect x="2" y="3" width="1" height="1"/><rect x="4" y="3" width="1" height="1"/><rect x="6" y="3" width="1" height="1"/><rect x="1" y="4" width="1" height="1"/><rect x="3" y="4" width="1" height="1"/><rect x="5" y="4" width="1" height="1"/><rect x="7" y="4" width="1" height="1"/><rect x="0" y="5" width="1" height="1"/><rect x="2" y="5" width="1" height="1"/><rect x="4" y="5" width="1" height="1"/><rect x="6" y="5" width="1" height="1"/><rect x="1" y="6" width="1" height="1"/><rect x="3" y="6" width="1" height="1"/><rect x="5" y="6" width="1" height="1"/><rect x="7" y="6" width="1" height="1"/></g></svg><span class="c">USD</span><span class="imp"><svg class="b1" viewBox="0 0 14 12" width="14" height="12"><path d="M1.4,0 C0.5,0.8 -0.3,2.1 0.3,3.1 C0.9,4.1 2.2,4 3,3.8 L3,6.2 L4.8,9.4 L5,10.9 C5.4,11.9 6.3,12.1 7,12.1 C7.7,12.1 8.6,11.9 9,10.9 L9.2,9.4 L11,6.2 L11,3.8 C11.8,4 13.1,4.1 13.7,3.1 C14.3,2.1 13.5,0.8 12.6,0 C12.4,1 12.3,2 11.5,2.4 C10.5,2.2 9,1.9 7,1.9 C5,1.9 3.5,2.2 2.5,2.4 C1.7,2 1.6,1 1.4,0 Z"/><path class="e" d="M4.1,4.7 L6,5.9 L5.8,6.6 L4.3,5.8 Z M9.9,4.7 L8,5.9 L8.2,6.6 L9.7,5.8 Z"/></svg><svg class="b1" viewBox="0 0 14 12" width="14" height="12"><path d="M1.4,0 C0.5,0.8 -0.3,2.1 0.3,3.1 C0.9,4.1 2.2,4 3,3.8 L3,6.2 L4.8,9.4 L5,10.9 C5.4,11.9 6.3,12.1 7,12.1 C7.7,12.1 8.6,11.9 9,10.9 L9.2,9.4 L11,6.2 L11,3.8 C11.8,4 13.1,4.1 13.7,3.1 C14.3,2.1 13.5,0.8 12.6,0 C12.4,1 12.3,2 11.5,2.4 C10.5,2.2 9,1.9 7,1.9 C5,1.9 3.5,2.2 2.5,2.4 C1.7,2 1.6,1 1.4,0 Z"/><path class="e" d="M4.1,4.7 L6,5.9 L5.8,6.6 L4.3,5.8 Z M9.9,4.7 L8,5.9 L8.2,6.6 L9.7,5.8 Z"/></svg><svg class="b0" viewBox="0 0 14 12" width="14" height="12"><path d="M1.4,0 C0.5,0.8 -0.3,2.1 0.3,3.1 C0.9,4.1 2.2,4 3,3.8 L3,6.2 L4.8,9.4 L5,10.9 C5.4,11.9 6.3,12.1 7,12.1 C7.7,12.1 8.6,11.9 9,10.9 L9.2,9.4 L11,6.2 L11,3.8 C11.8,4 13.1,4.1 13.7,3.1 C14.3,2.1 13.5,0.8 12.6,0 C12.4,1 12.3,2 11.5,2.4 C10.5,2.2 9,1.9 7,1.9 C5,1.9 3.5,2.2 2.5,2.4 C1.7,2 1.6,1 1.4,0 Z"/><path class="e" d="M4.1,4.7 L6,5.9 L5.8,6.6 L4.3,5.8 Z M9.9,4.7 L8,5.9 L8.2,6.6 L9.7,5.8 Z"/></svg></span><span class="ev">Retail Inventories Ex Auto (Mar)</span><span class="a"></span><span class="f"></span><span class="p">1.4%</span></div>
<div class="r"><span class="t">22:00</span><svg class="fl" viewBox="0 0 14 11" width="14" height="11"><rect width="14" height="11" fill="#fff"/><rect y="0" width="14" height="1" fill="#e9606b"/><rect y="2" width="14" height="1" fill="#e65764"/><rect y="4" width="14" height="1" fill="#e24858"/><rect y="6" width="14" height="1" fill="#de3448"/><rect y="8" width="14" height="1" fill="#d9283b"/><rect y="10" width="14" height="1" fill="#b41f32"/><rect width="8" height="7" fill="#343f9a"/><g fill="#b9bfe6"><rect x="1" y="0" width="1" height="1"/><rect x="3" y="0" width="1" height="1"/><rect x="5" y="0" width="1" height="1"/><rect x="7" y="0" width="1" height="1"/><rect x="0" y="1" width="1" height="1"/><rect x="2" y="1" width="1" height="1"/><rect x="4" y="1" width="1" height="1"/><rect x="6" y="1" width="1" height="1"/><rect x="1" y="2" width="1" height="1"/><rect x="3" y="2" width="1" height="1"/><rect x="5" y="2" width="1" height="1"/><rect x="7" y="2" width="1" height="1"/><rect x="0" y="3" width="1" height="1"/><rect x="2" y="3" width="1" height="1"/><rect x="4" y="3" width="1" height="1"/><rect x="6" y="3" width="1" height="1"/><rect x="1" y="4" width="1" height="1"/><rect x="3" y="4" width="1" height="1"/><rect x="5" y="4" width="1" height="1"/><rect x="7" y="4" width="1" height="1"/><rect x="0" y="5" width="1" height="1"/><rect x="2" y="5" width="1" height="1"/><rect x="4" y="5" width="1" height="1"/><rect x="6" y="5" width="1" height="1"/><rect x="1" y="6" width="1" height="1"/><rect x="3" y="6" width="1" height="1"/><rect x="5" y="6" width="1" height="1"/><rect x="7" y="6" width="1" height="1"/></g></svg><span class="c">USD</span><span class="imp"><svg class="b1" viewBox="0 0 14 12" width="14" height="12"><path d="M1.4,0 C0.5,0.8 -0.3,2.1 0.3,3.1 C0.9,4.1 2.2,4 3,3.8 L3,6.2 L4.8,9.4 L5,10.9 C5.4,11.9 6.3,12.1 7,12.1 C7.7,12.1 8.6,11.9 9,10.9 L9.2,9.4 L11,6.2 L11,3.8 C11.8,4 13.1,4.1 13.7,3.1 C14.3,2.1 13.5,0.8 12.6,0 C12.4,1 12.3,2 11.5,2.4 C10.5,2.2 9,1.9 7,1.9 C5,1.9 3.5,2.2 2.5,2.4 C1.7,2 1.6,1 1.4,0 Z"/><path class="e" d="M4.1,4.7 L6,5.9 L5.8,6.6 L4.3,5.8 Z M9.9,4.7 L8,5.9 L8.2,6.6 L9.7,5.8 Z"/></svg><svg class="b1" viewBox="0 0 14 12" width="14" height="12"><path d="M1.4,0 C0.5,0.8 -0.3,2.1 0.3,3.1 C0.9,4.1 2.2,4 3,3.8 L3,6.2 L4.8,9.4 L5,10.9 C5.4,11.9 6.3,12.1 7,12.1 C7.7,12.1 8.6,11.9 9,10.9 L9.2,9.4 L11,6.2 L11,3.8 C11.8,4 13.1,4.1 13.7,3.1 C14.3,2.1 13.5,0.8 12.6,0 C12.4,1 12.3,2 11.5,2.4 C10.5,2.2 9,1.9 7,1.9 C5,1.9 3.5,2.2 2.5,2.4 C1.7,2 1.6,1 1.4,0 Z"/><path class="e" d="M4.1,4.7 L6,5.9 L5.8,6.6 L4.3,5.8 Z M9.9,4.7 L8,5.9 L8.2,6.6 L9.7,5.8 Z"/></svg><svg class="b1" viewBox="0 0 14 12" width="14" height="12"><path d="M1.4,0 C0.5,0.8 -0.3,2.1 0.3,3.1 C0.9,4.1 2.2,4 3,3.8 L3,6.2 L4.8,9.4 L5,10.9 C5.4,11.9 6.3,12.1 7,12.1 C7.7,12.1 8.6,11.9 9,10.9 L9.2,9.4 L11,6.2 L11,3.8 C11.8,4 13.1,4.1 13.7,3.1 C14.3,2.1 13.5,0.8 12.6,0 C12.4,1 12.3,2 11.5,2.4 C10.5,2.2 9,1.9 7,1.9 C5,1.9 3.5,2.2 2.5,2.4 C1.7,2 1.6,1 1.4,0 Z"/><path class="e" d="M4.1,4.7 L6,5.9 L5.8,6.6 L4.3,5.8 Z M9.9,4.7 L8,5.9 L8.2,6.6 L9.7,5.8 Z"/></svg></span><span class="ev">Pending Home Sales (MoM) (Mar)</span><span class="a"></span><span class="f">-1.8%</span><span class="p">-4.1%</span></div>
<div class="r"><span class="t">22:30</span><svg class="fl" viewBox="0 0 14 11" width="14" height="11"><rect width="14" height="11" fill="#fff"/><rect y="0" width="14" height="1" fill="#e9606b"/><rect y="2" width="14" height="1" fill="#e65764"/><rect y="4" width="14" height="1" fill="#e24858"/><rect y="6" width="14" height="1" fill="#de3448"/><rect y="8" width="14" height="1" fill="#d9283b"/><rect y="10" width="14" height="1" fill="#b41f32"/><rect width="8" height="7" fill="#343f9a"/><g fill="#b9bfe6"><rect x="1" y="0" width="1" height="1"/><rect x="3" y="0" width="1" height="1"/><rect x="5" y="0" width="1" height="1"/><rect x="7" y="0" width="1" height="1"/><rect x="0" y="1" width="1" height="1"/><rect x="2" y="1" width="1" height="1"/><rect x="4" y="1" width="1" height="1"/><rect x="6" y="1" width="1" height="1"/><rect x="1" y="2" width="1" height="1"/><rect x="3" y="2" width="1" height="1"/><rect x="5" y="2" width="1" height="1"/><rect x="7" y="2" width="1" height="1"/><rect x="0" y="3" width="1" height="1"/><rect x="2" y="3" width="1" height="1"/><rect x="4" y="3" width="1" height="1"/><rect x="6" y="3" width="1" height="1"/><rect x="1" y="4" width="1" height="1"/><rect x="3" y="4" width="1" height="1"/><rect x="5" y="4" width="1" height="1"/><rect x="7" y="4" width="1" height="1"/><rect x="0" y="5" width="1" height="1"/><rect x="2" y="5" width="1" height="1"/><rect x="4" y="5" width="1" height="1"/><rect x="6" y="5" width="1" height="1"/><rect x="1" y="6" width="1" height="1"/><rect x="3" y="6" width="1" height="1"/><rect x="5" y="6" width="1" height="1"/><rect x="7" y="6" width="1" height="1"/></g></svg><span class="c">USD</span><span class="imp"><svg class="b1" viewBox="0 0 14 12" width="14" height="12"><path d="M1.4,0 C0.5,0.8 -0.3,2.1 0.3,3.1 C0.9,4.1 2.2,4 3,3.8 L3,6.2 L4.8,9.4 L5,10.9 C5.4,11.9 6.3,12.1 7,12.1 C7.7,12.1 8.6,11.9 9,10.9 L9.2,9.4 L11,6.2 L11,3.8 C11.8,4 13.1,4.1 13.7,3.1 C14.3,2.1 13.5,0.8 12.6,0 C12.4,1 12.3,2 11.5,2.4 C10.5,2.2 9,1.9 7,1.9 C5,1.9 3.5,2.2 2.5,2.4 C1.7,2 1.6,1 1.4,0 Z"/><path class="e" d="M4.1,4.7 L6,5.9 L5.8,6.6 L4.3,5.8 Z M9.9,4.7 L8,5.9 L8.2,6.6 L9.7,5.8 Z"/></svg><svg class="b1" viewBox="0 0 14 12" width="14" height="12"><path d="M1.4,0 C0.5,0.8 -0.3,2.1 0.3,3.1 C0.9,4.1 2.2,4 3,3.8 L3,6.2 L4.8,9.4 L5,10.9 C5.4,11.9 6.3,12.1 7,12.1 C7.7,12.1 8.6,11.9 9,10.9 L9.2,9.4 L11,6.2 L11,3.8 C11.8,4 13.1,4.1 13.7,3.1 C14.3,2.1 13.5,0.8 12.6,0 C12.4,1 12.3,2 11.5,2.4 C10.5,2.2 9,1.9 7,1.9 C5,1.9 3.5,2.2 2.5,2.4 C1.7,2 1.6,1 1.4,0 Z"/><path class="e" d="M4.1,4.7 L6,5.9 L5.8,6.6 L4.3,5.8 Z M9.9,4.7 L8,5.9 L8.2,6.6 L9.7,5.8 Z"/></svg><svg class="b1" viewBox="0 0 14 12" width="14" height="12"><path d="M1.4,0 C0.5,0.8 -0.3,2.1 0.3,3.1 C0.9,4.1 2.2,4 3,3.8 L3,6.2 L4.8,9.4 L5,10.9 C5.4,11.9 6.3,12.1 7,12.1 C7.7,12.1 8.6,11.9 9,10.9 L9.2,9.4 L11,6.2 L11,3.8 C11.8,4 13.1,4.1 13.7,3.1 C14.3,2.1 13.5,0.8 12.6,0 C12.4,1 12.3,2 11.5,2.4 C10.5,2.2 9,1.9 7,1.9 C5,1.9 3.5,2.2 2.5,2.4 C1.7,2 1.6,1 1.4,0 Z"/><path class="e" d="M4.1,4.7 L6,5.9 L5.8,6.6 L4.3,5.8 Z M9.9,4.7 L8,5.9 L8.2,6.6 L9.7,5.8 Z"/></svg></span><span class="ev">Crude Oil Inventories</span><span class="a"></span><span class="f">2.471M</span><span class="p g">-8.020M</span></div>
<div class="r"><span class="t">22:30</span><svg class="fl" viewBox="0 0 14 11" width="14" height="11"><rect width="14" height="11" fill="#fff"/><rect y="0" width="14" height="1" fill="#e9606b"/><rect y="2" width="14" height="1" fill="#e65764"/><rect y="4" width="14" height="1" fill="#e24858"/><rect y="6" width="14" height="1" fill="#de3448"/><rect y="8" width="14" height="1" fill="#d9283b"/><rect y="10" width="14" height="1" fill="#b41f32"/><rect width="8" height="7" fill="#343f9a"/><g fill="#b9bfe6"><rect x="1" y="0" width="1" height="1"/><rect x="3" y="0" width="1" height="1"/><rect x="5" y="0" width="1" height="1"/><rect x="7" y="0" width="1" height="1"/><rect x="0" y="1" width="1" height="1"/><rect x="2" y="1" width="1" height="1"/><rect x="4" y="1" width="1" height="1"/><rect x="6" y="1" width="1" height="1"/><rect x="1" y="2" width="1" height="1"/><rect x="3" y="2" width="1" height="1"/><rect x="5" y="2" width="1" height="1"/><rect x="7" y="2" width="1" height="1"/><rect x="0" y="3" width="1" height="1"/><rect x="2" y="3" width="1" height="1"/><rect x="4" y="3" width="1" height="1"/><rect x="6" y="3" width="1" height="1"/><rect x="1" y="4" width="1" height="1"/><rect x="3" y="4" width="1" height="1"/><rect x="5" y="4" width="1" height="1"/><rect x="7" y="4" width="1" height="1"/><rect x="0" y="5" width="1" height="1"/><rect x="2" y="5" width="1" height="1"/><rect x="4" y="5" width="1" height="1"/><rect x="6" y="5" width="1" height="1"/><rect x="1" y="6" width="1" height="1"/><rect x="3" y="6" width="1" height="1"/><rect x="5" y="6" width="1" height="1"/><rect x="7" y="6" width="1" height="1"/></g></svg><span class="c">USD</span><span class="imp"><svg class="b1" viewBox="0 0 14 12" width="14" height="12"><path d="M1.4,0 C0.5,0.8 -0.3,2.1 0.3,3.1 C0.9,4.1 2.2,4 3,3.8 L3,6.2 L4.8,9.4 L5,10.9 C5.4,11.9 6.3,12.1 7,12.1 C7.7,12.1 8.6,11.9 9,10.9 L9.2,9.4 L11,6.2 L11,3.8 C11.8,4 13.1,4.1 13.7,3.1 C14.3,2.1 13.5,0.8 12.6,0 C12.4,1 12.3,2 11.5,2.4 C10.5,2.2 9,1.9 7,1.9 C5,1.9 3.5,2.2 2.5,2.4 C1.7,2 1.6,1 1.4,0 Z"/><path class="e" d="M4.1,4.7 L6,5.9 L5.8,6.6 L4.3,5.8 Z M9.9,4.7 L8,5.9 L8.2,6.6 L9.7,5.8 Z"/></svg><svg class="b1" viewBox="0 0 14 12" width="14" height="12"><path d="M1.4,0 C0.5,0.8 -0.3,2.1 0.3,3.1 C0.9,4.1 2.2,4 3,3.8 L3,6.2 L4.8,9.4 L5,10.9 C5.4,11.9 6.3,12.1 7,12.1 C7.7,12.1 8.6,11.9 9,10.9 L9.2,9.4 L11,6.2 L11,3.8 C11.8,4 13.1,4.1 13.7,3.1 C14.3,2.1 13.5,0.8 12.6,0 C12.4,1 12.3,2 11.5,2.4 C10.5,2.2 9,1.9 7,1.9 C5,1.9 3.5,2.2 2.5,2.4 C1.7,2 1.6,1 1.4,0 Z"/><path class="e" d="M4.1,4.7 L6,5.9 L5.8,6.6 L4.3,5.8 Z M9.9,4.7 L8,5.9 L8.2,6.6 L9.7,5.8 Z"/></svg><svg class="b0" viewBox="0 0 14 12" width="14" height="12"><path d="M1.4,0 C0.5,0.8 -0.3,2.1 0.3,3.1 C0.9,4.1 2.2,4 3,3.8 L3,6.2 L4.8,9.4 L5,10.9 C5.4,11.9 6.3,12.1 7,12.1 C7.7,12.1 8.6,11.9 9,10.9 L9.2,9.4 L11,6.2 L11,3.8 C11.8,4 13.1,4.1 13.7,3.1 C14.3,2.1 13.5,0.8 12.6,0 C12.4,1 12.3,2 11.5,2.4 C10.5,2.2 9,1.9 7,1.9 C5,1.9 3.5,2.2 2.5,2.4 C1.7,2 1.6,1 1.4,0 Z"/><path class="e" d="M4.1,4.7 L6,5.9 L5.8,6.6 L4.3,5.8 Z M9.9,4.7 L8,5.9 L8.2,6.6 L9.7,5.8 Z"/></svg></span><span class="ev">Cushing Crude Oil Inventories</span><span class="a"></span><span class="f"></span><span class="p">-0.185M</span></div>
<div class="day">Thursday, April 28, 2022</div>
<div class="r first"><span class="t">20:30</span><svg class="fl" viewBox="0 0 14 11" width="14" height="11"><rect width="14" height="11" fill="#fff"/><rect y="0" width="14" height="1" fill="#e9606b"/><rect y="2" width="14" height="1" fill="#e65764"/><rect y="4" width="14" height="1" fill="#e24858"/><rect y="6" width="14" height="1" fill="#de3448"/><rect y="8" width="14" height="1" fill="#d9283b"/><rect y="10" width="14" height="1" fill="#b41f32"/><rect width="8" height="7" fill="#343f9a"/><g fill="#b9bfe6"><rect x="1" y="0" width="1" height="1"/><rect x="3" y="0" width="1" height="1"/><rect x="5" y="0" width="1" height="1"/><rect x="7" y="0" width="1" height="1"/><rect x="0" y="1" width="1" height="1"/><rect x="2" y="1" width="1" height="1"/><rect x="4" y="1" width="1" height="1"/><rect x="6" y="1" width="1" height="1"/><rect x="1" y="2" width="1" height="1"/><rect x="3" y="2" width="1" height="1"/><rect x="5" y="2" width="1" height="1"/><rect x="7" y="2" width="1" height="1"/><rect x="0" y="3" width="1" height="1"/><rect x="2" y="3" width="1" height="1"/><rect x="4" y="3" width="1" height="1"/><rect x="6" y="3" width="1" height="1"/><rect x="1" y="4" width="1" height="1"/><rect x="3" y="4" width="1" height="1"/><rect x="5" y="4" width="1" height="1"/><rect x="7" y="4" width="1" height="1"/><rect x="0" y="5" width="1" height="1"/><rect x="2" y="5" width="1" height="1"/><rect x="4" y="5" width="1" height="1"/><rect x="6" y="5" width="1" height="1"/><rect x="1" y="6" width="1" height="1"/><rect x="3" y="6" width="1" height="1"/><rect x="5" y="6" width="1" height="1"/><rect x="7" y="6" width="1" height="1"/></g></svg><span class="c">USD</span><span class="imp"><svg class="b1" viewBox="0 0 14 12" width="14" height="12"><path d="M1.4,0 C0.5,0.8 -0.3,2.1 0.3,3.1 C0.9,4.1 2.2,4 3,3.8 L3,6.2 L4.8,9.4 L5,10.9 C5.4,11.9 6.3,12.1 7,12.1 C7.7,12.1 8.6,11.9 9,10.9 L9.2,9.4 L11,6.2 L11,3.8 C11.8,4 13.1,4.1 13.7,3.1 C14.3,2.1 13.5,0.8 12.6,0 C12.4,1 12.3,2 11.5,2.4 C10.5,2.2 9,1.9 7,1.9 C5,1.9 3.5,2.2 2.5,2.4 C1.7,2 1.6,1 1.4,0 Z"/><path class="e" d="M4.1,4.7 L6,5.9 L5.8,6.6 L4.3,5.8 Z M9.9,4.7 L8,5.9 L8.2,6.6 L9.7,5.8 Z"/></svg><svg class="b1" viewBox="0 0 14 12" width="14" height="12"><path d="M1.4,0 C0.5,0.8 -0.3,2.1 0.3,3.1 C0.9,4.1 2.2,4 3,3.8 L3,6.2 L4.8,9.4 L5,10.9 C5.4,11.9 6.3,12.1 7,12.1 C7.7,12.1 8.6,11.9 9,10.9 L9.2,9.4 L11,6.2 L11,3.8 C11.8,4 13.1,4.1 13.7,3.1 C14.3,2.1 13.5,0.8 12.6,0 C12.4,1 12.3,2 11.5,2.4 C10.5,2.2 9,1.9 7,1.9 C5,1.9 3.5,2.2 2.5,2.4 C1.7,2 1.6,1 1.4,0 Z"/><path class="e" d="M4.1,4.7 L6,5.9 L5.8,6.6 L4.3,5.8 Z M9.9,4.7 L8,5.9 L8.2,6.6 L9.7,5.8 Z"/></svg><svg class="b1" viewBox="0 0 14 12" width="14" height="12"><path d="M1.4,0 C0.5,0.8 -0.3,2.1 0.3,3.1 C0.9,4.1 2.2,4 3,3.8 L3,6.2 L4.8,9.4 L5,10.9 C5.4,11.9 6.3,12.1 7,12.1 C7.7,12.1 8.6,11.9 9,10.9 L9.2,9.4 L11,6.2 L11,3.8 C11.8,4 13.1,4.1 13.7,3.1 C14.3,2.1 13.5,0.8 12.6,0 C12.4,1 12.3,2 11.5,2.4 C10.5,2.2 9,1.9 7,1.9 C5,1.9 3.5,2.2 2.5,2.4 C1.7,2 1.6,1 1.4,0 Z"/><path class="e" d="M4.1,4.7 L6,5.9 L5.8,6.6 L4.3,5.8 Z M9.9,4.7 L8,5.9 L8.2,6.6 L9.7,5.8 Z"/></svg></span><span class="ev">GDP (QoQ) (Q1)<span class="pm">P</span></span><span class="a"></span><span class="f">1.0%</span><span class="p">6.9%</span></div>
<div class="r"><span class="t">20:30</span><svg class="fl" viewBox="0 0 14 11" width="14" height="11"><rect width="14" height="11" fill="#fff"/><rect y="0" width="14" height="1" fill="#e9606b"/><rect y="2" width="14" height="1" fill="#e65764"/><rect y="4" width="14" height="1" fill="#e24858"/><rect y="6" width="14" height="1" fill="#de3448"/><rect y="8" width="14" height="1" fill="#d9283b"/><rect y="10" width="14" height="1" fill="#b41f32"/><rect width="8" height="7" fill="#343f9a"/><g fill="#b9bfe6"><rect x="1" y="0" width="1" height="1"/><rect x="3" y="0" width="1" height="1"/><rect x="5" y="0" width="1" height="1"/><rect x="7" y="0" width="1" height="1"/><rect x="0" y="1" width="1" height="1"/><rect x="2" y="1" width="1" height="1"/><rect x="4" y="1" width="1" height="1"/><rect x="6" y="1" width="1" height="1"/><rect x="1" y="2" width="1" height="1"/><rect x="3" y="2" width="1" height="1"/><rect x="5" y="2" width="1" height="1"/><rect x="7" y="2" width="1" height="1"/><rect x="0" y="3" width="1" height="1"/><rect x="2" y="3" width="1" height="1"/><rect x="4" y="3" width="1" height="1"/><rect x="6" y="3" width="1" height="1"/><rect x="1" y="4" width="1" height="1"/><rect x="3" y="4" width="1" height="1"/><rect x="5" y="4" width="1" height="1"/><rect x="7" y="4" width="1" height="1"/><rect x="0" y="5" width="1" height="1"/><rect x="2" y="5" width="1" height="1"/><rect x="4" y="5" width="1" height="1"/><rect x="6" y="5" width="1" height="1"/><rect x="1" y="6" width="1" height="1"/><rect x="3" y="6" width="1" height="1"/><rect x="5" y="6" width="1" height="1"/><rect x="7" y="6" width="1" height="1"/></g></svg><span class="c">USD</span><span class="imp"><svg class="b1" viewBox="0 0 14 12" width="14" height="12"><path d="M1.4,0 C0.5,0.8 -0.3,2.1 0.3,3.1 C0.9,4.1 2.2,4 3,3.8 L3,6.2 L4.8,9.4 L5,10.9 C5.4,11.9 6.3,12.1 7,12.1 C7.7,12.1 8.6,11.9 9,10.9 L9.2,9.4 L11,6.2 L11,3.8 C11.8,4 13.1,4.1 13.7,3.1 C14.3,2.1 13.5,0.8 12.6,0 C12.4,1 12.3,2 11.5,2.4 C10.5,2.2 9,1.9 7,1.9 C5,1.9 3.5,2.2 2.5,2.4 C1.7,2 1.6,1 1.4,0 Z"/><path class="e" d="M4.1,4.7 L6,5.9 L5.8,6.6 L4.3,5.8 Z M9.9,4.7 L8,5.9 L8.2,6.6 L9.7,5.8 Z"/></svg><svg class="b1" viewBox="0 0 14 12" width="14" height="12"><path d="M1.4,0 C0.5,0.8 -0.3,2.1 0.3,3.1 C0.9,4.1 2.2,4 3,3.8 L3,6.2 L4.8,9.4 L5,10.9 C5.4,11.9 6.3,12.1 7,12.1 C7.7,12.1 8.6,11.9 9,10.9 L9.2,9.4 L11,6.2 L11,3.8 C11.8,4 13.1,4.1 13.7,3.1 C14.3,2.1 13.5,0.8 12.6,0 C12.4,1 12.3,2 11.5,2.4 C10.5,2.2 9,1.9 7,1.9 C5,1.9 3.5,2.2 2.5,2.4 C1.7,2 1.6,1 1.4,0 Z"/><path class="e" d="M4.1,4.7 L6,5.9 L5.8,6.6 L4.3,5.8 Z M9.9,4.7 L8,5.9 L8.2,6.6 L9.7,5.8 Z"/></svg><svg class="b0" viewBox="0 0 14 12" width="14" height="12"><path d="M1.4,0 C0.5,0.8 -0.3,2.1 0.3,3.1 C0.9,4.1 2.2,4 3,3.8 L3,6.2 L4.8,9.4 L5,10.9 C5.4,11.9 6.3,12.1 7,12.1 C7.7,12.1 8.6,11.9 9,10.9 L9.2,9.4 L11,6.2 L11,3.8 C11.8,4 13.1,4.1 13.7,3.1 C14.3,2.1 13.5,0.8 12.6,0 C12.4,1 12.3,2 11.5,2.4 C10.5,2.2 9,1.9 7,1.9 C5,1.9 3.5,2.2 2.5,2.4 C1.7,2 1.6,1 1.4,0 Z"/><path class="e" d="M4.1,4.7 L6,5.9 L5.8,6.6 L4.3,5.8 Z M9.9,4.7 L8,5.9 L8.2,6.6 L9.7,5.8 Z"/></svg></span><span class="ev">GDP Price Index (QoQ) (Q1)<span class="pm">P</span></span><span class="a"></span><span class="f">7.2%</span><span class="p">7.1%</span></div>
<div class="r"><span class="t">20:30</span><svg class="fl" viewBox="0 0 14 11" width="14" height="11"><rect width="14" height="11" fill="#fff"/><rect y="0" width="14" height="1" fill="#e9606b"/><rect y="2" width="14" height="1" fill="#e65764"/><rect y="4" width="14" height="1" fill="#e24858"/><rect y="6" width="14" height="1" fill="#de3448"/><rect y="8" width="14" height="1" fill="#d9283b"/><rect y="10" width="14" height="1" fill="#b41f32"/><rect width="8" height="7" fill="#343f9a"/><g fill="#b9bfe6"><rect x="1" y="0" width="1" height="1"/><rect x="3" y="0" width="1" height="1"/><rect x="5" y="0" width="1" height="1"/><rect x="7" y="0" width="1" height="1"/><rect x="0" y="1" width="1" height="1"/><rect x="2" y="1" width="1" height="1"/><rect x="4" y="1" width="1" height="1"/><rect x="6" y="1" width="1" height="1"/><rect x="1" y="2" width="1" height="1"/><rect x="3" y="2" width="1" height="1"/><rect x="5" y="2" width="1" height="1"/><rect x="7" y="2" width="1" height="1"/><rect x="0" y="3" width="1" height="1"/><rect x="2" y="3" width="1" height="1"/><rect x="4" y="3" width="1" height="1"/><rect x="6" y="3" width="1" height="1"/><rect x="1" y="4" width="1" height="1"/><rect x="3" y="4" width="1" height="1"/><rect x="5" y="4" width="1" height="1"/><rect x="7" y="4" width="1" height="1"/><rect x="0" y="5" width="1" height="1"/><rect x="2" y="5" width="1" height="1"/><rect x="4" y="5" width="1" height="1"/><rect x="6" y="5" width="1" height="1"/><rect x="1" y="6" width="1" height="1"/><rect x="3" y="6" width="1" height="1"/><rect x="5" y="6" width="1" height="1"/><rect x="7" y="6" width="1" height="1"/></g></svg><span class="c">USD</span><span class="imp"><svg class="b1" viewBox="0 0 14 12" width="14" height="12"><path d="M1.4,0 C0.5,0.8 -0.3,2.1 0.3,3.1 C0.9,4.1 2.2,4 3,3.8 L3,6.2 L4.8,9.4 L5,10.9 C5.4,11.9 6.3,12.1 7,12.1 C7.7,12.1 8.6,11.9 9,10.9 L9.2,9.4 L11,6.2 L11,3.8 C11.8,4 13.1,4.1 13.7,3.1 C14.3,2.1 13.5,0.8 12.6,0 C12.4,1 12.3,2 11.5,2.4 C10.5,2.2 9,1.9 7,1.9 C5,1.9 3.5,2.2 2.5,2.4 C1.7,2 1.6,1 1.4,0 Z"/><path class="e" d="M4.1,4.7 L6,5.9 L5.8,6.6 L4.3,5.8 Z M9.9,4.7 L8,5.9 L8.2,6.6 L9.7,5.8 Z"/></svg><svg class="b1" viewBox="0 0 14 12" width="14" height="12"><path d="M1.4,0 C0.5,0.8 -0.3,2.1 0.3,3.1 C0.9,4.1 2.2,4 3,3.8 L3,6.2 L4.8,9.4 L5,10.9 C5.4,11.9 6.3,12.1 7,12.1 C7.7,12.1 8.6,11.9 9,10.9 L9.2,9.4 L11,6.2 L11,3.8 C11.8,4 13.1,4.1 13.7,3.1 C14.3,2.1 13.5,0.8 12.6,0 C12.4,1 12.3,2 11.5,2.4 C10.5,2.2 9,1.9 7,1.9 C5,1.9 3.5,2.2 2.5,2.4 C1.7,2 1.6,1 1.4,0 Z"/><path class="e" d="M4.1,4.7 L6,5.9 L5.8,6.6 L4.3,5.8 Z M9.9,4.7 L8,5.9 L8.2,6.6 L9.7,5.8 Z"/></svg><svg class="b1" viewBox="0 0 14 12" width="14" height="12"><path d="M1.4,0 C0.5,0.8 -0.3,2.1 0.3,3.1 C0.9,4.1 2.2,4 3,3.8 L3,6.2 L4.8,9.4 L5,10.9 C5.4,11.9 6.3,12.1 7,12.1 C7.7,12.1 8.6,11.9 9,10.9 L9.2,9.4 L11,6.2 L11,3.8 C11.8,4 13.1,4.1 13.7,3.1 C14.3,2.1 13.5,0.8 12.6,0 C12.4,1 12.3,2 11.5,2.4 C10.5,2.2 9,1.9 7,1.9 C5,1.9 3.5,2.2 2.5,2.4 C1.7,2 1.6,1 1.4,0 Z"/><path class="e" d="M4.1,4.7 L6,5.9 L5.8,6.6 L4.3,5.8 Z M9.9,4.7 L8,5.9 L8.2,6.6 L9.7,5.8 Z"/></svg></span><span class="ev">Initial Jobless Claims</span><span class="a"></span><span class="f"></span><span class="p">184K</span></div>
<div class="day">Friday, April 29, 2022</div>
<div class="r first"><span class="t">20:30</span><svg class="fl" viewBox="0 0 14 11" width="14" height="11"><rect width="14" height="11" fill="#fff"/><rect y="0" width="14" height="1" fill="#e9606b"/><rect y="2" width="14" height="1" fill="#e65764"/><rect y="4" width="14" height="1" fill="#e24858"/><rect y="6" width="14" height="1" fill="#de3448"/><rect y="8" width="14" height="1" fill="#d9283b"/><rect y="10" width="14" height="1" fill="#b41f32"/><rect width="8" height="7" fill="#343f9a"/><g fill="#b9bfe6"><rect x="1" y="0" width="1" height="1"/><rect x="3" y="0" width="1" height="1"/><rect x="5" y="0" width="1" height="1"/><rect x="7" y="0" width="1" height="1"/><rect x="0" y="1" width="1" height="1"/><rect x="2" y="1" width="1" height="1"/><rect x="4" y="1" width="1" height="1"/><rect x="6" y="1" width="1" height="1"/><rect x="1" y="2" width="1" height="1"/><rect x="3" y="2" width="1" height="1"/><rect x="5" y="2" width="1" height="1"/><rect x="7" y="2" width="1" height="1"/><rect x="0" y="3" width="1" height="1"/><rect x="2" y="3" width="1" height="1"/><rect x="4" y="3" width="1" height="1"/><rect x="6" y="3" width="1" height="1"/><rect x="1" y="4" width="1" height="1"/><rect x="3" y="4" width="1" height="1"/><rect x="5" y="4" width="1" height="1"/><rect x="7" y="4" width="1" height="1"/><rect x="0" y="5" width="1" height="1"/><rect x="2" y="5" width="1" height="1"/><rect x="4" y="5" width="1" height="1"/><rect x="6" y="5" width="1" height="1"/><rect x="1" y="6" width="1" height="1"/><rect x="3" y="6" width="1" height="1"/><rect x="5" y="6" width="1" height="1"/><rect x="7" y="6" width="1" height="1"/></g></svg><span class="c">USD</span><span class="imp"><svg class="b1" viewBox="0 0 14 12" width="14" height="12"><path d="M1.4,0 C0.5,0.8 -0.3,2.1 0.3,3.1 C0.9,4.1 2.2,4 3,3.8 L3,6.2 L4.8,9.4 L5,10.9 C5.4,11.9 6.3,12.1 7,12.1 C7.7,12.1 8.6,11.9 9,10.9 L9.2,9.4 L11,6.2 L11,3.8 C11.8,4 13.1,4.1 13.7,3.1 C14.3,2.1 13.5,0.8 12.6,0 C12.4,1 12.3,2 11.5,2.4 C10.5,2.2 9,1.9 7,1.9 C5,1.9 3.5,2.2 2.5,2.4 C1.7,2 1.6,1 1.4,0 Z"/><path class="e" d="M4.1,4.7 L6,5.9 L5.8,6.6 L4.3,5.8 Z M9.9,4.7 L8,5.9 L8.2,6.6 L9.7,5.8 Z"/></svg><svg class="b1" viewBox="0 0 14 12" width="14" height="12"><path d="M1.4,0 C0.5,0.8 -0.3,2.1 0.3,3.1 C0.9,4.1 2.2,4 3,3.8 L3,6.2 L4.8,9.4 L5,10.9 C5.4,11.9 6.3,12.1 7,12.1 C7.7,12.1 8.6,11.9 9,10.9 L9.2,9.4 L11,6.2 L11,3.8 C11.8,4 13.1,4.1 13.7,3.1 C14.3,2.1 13.5,0.8 12.6,0 C12.4,1 12.3,2 11.5,2.4 C10.5,2.2 9,1.9 7,1.9 C5,1.9 3.5,2.2 2.5,2.4 C1.7,2 1.6,1 1.4,0 Z"/><path class="e" d="M4.1,4.7 L6,5.9 L5.8,6.6 L4.3,5.8 Z M9.9,4.7 L8,5.9 L8.2,6.6 L9.7,5.8 Z"/></svg><svg class="b0" viewBox="0 0 14 12" width="14" height="12"><path d="M1.4,0 C0.5,0.8 -0.3,2.1 0.3,3.1 C0.9,4.1 2.2,4 3,3.8 L3,6.2 L4.8,9.4 L5,10.9 C5.4,11.9 6.3,12.1 7,12.1 C7.7,12.1 8.6,11.9 9,10.9 L9.2,9.4 L11,6.2 L11,3.8 C11.8,4 13.1,4.1 13.7,3.1 C14.3,2.1 13.5,0.8 12.6,0 C12.4,1 12.3,2 11.5,2.4 C10.5,2.2 9,1.9 7,1.9 C5,1.9 3.5,2.2 2.5,2.4 C1.7,2 1.6,1 1.4,0 Z"/><path class="e" d="M4.1,4.7 L6,5.9 L5.8,6.6 L4.3,5.8 Z M9.9,4.7 L8,5.9 L8.2,6.6 L9.7,5.8 Z"/></svg></span><span class="ev">Core PCE Price Index (YoY) (Mar)</span><span class="a"></span><span class="f">5.3%</span><span class="p">5.4%</span></div>
<div class="r"><span class="t">20:30</span><svg class="fl" viewBox="0 0 14 11" width="14" height="11"><rect width="14" height="11" fill="#fff"/><rect y="0" width="14" height="1" fill="#e9606b"/><rect y="2" width="14" height="1" fill="#e65764"/><rect y="4" width="14" height="1" fill="#e24858"/><rect y="6" width="14" height="1" fill="#de3448"/><rect y="8" width="14" height="1" fill="#d9283b"/><rect y="10" width="14" height="1" fill="#b41f32"/><rect width="8" height="7" fill="#343f9a"/><g fill="#b9bfe6"><rect x="1" y="0" width="1" height="1"/><rect x="3" y="0" width="1" height="1"/><rect x="5" y="0" width="1" height="1"/><rect x="7" y="0" width="1" height="1"/><rect x="0" y="1" width="1" height="1"/><rect x="2" y="1" width="1" height="1"/><rect x="4" y="1" width="1" height="1"/><rect x="6" y="1" width="1" height="1"/><rect x="1" y="2" width="1" height="1"/><rect x="3" y="2" width="1" height="1"/><rect x="5" y="2" width="1" height="1"/><rect x="7" y="2" width="1" height="1"/><rect x="0" y="3" width="1" height="1"/><rect x="2" y="3" width="1" height="1"/><rect x="4" y="3" width="1" height="1"/><rect x="6" y="3" width="1" height="1"/><rect x="1" y="4" width="1" height="1"/><rect x="3" y="4" width="1" height="1"/><rect x="5" y="4" width="1" height="1"/><rect x="7" y="4" width="1" height="1"/><rect x="0" y="5" width="1" height="1"/><rect x="2" y="5" width="1" height="1"/><rect x="4" y="5" width="1" height="1"/><rect x="6" y="5" width="1" height="1"/><rect x="1" y="6" width="1" height="1"/><rect x="3" y="6" width="1" height="1"/><rect x="5" y="6" width="1" height="1"/><rect x="7" y="6" width="1" height="1"/></g></svg><span class="c">USD</span><span class="imp"><svg class="b1" viewBox="0 0 14 12" width="14" height="12"><path d="M1.4,0 C0.5,0.8 -0.3,2.1 0.3,3.1 C0.9,4.1 2.2,4 3,3.8 L3,6.2 L4.8,9.4 L5,10.9 C5.4,11.9 6.3,12.1 7,12.1 C7.7,12.1 8.6,11.9 9,10.9 L9.2,9.4 L11,6.2 L11,3.8 C11.8,4 13.1,4.1 13.7,3.1 C14.3,2.1 13.5,0.8 12.6,0 C12.4,1 12.3,2 11.5,2.4 C10.5,2.2 9,1.9 7,1.9 C5,1.9 3.5,2.2 2.5,2.4 C1.7,2 1.6,1 1.4,0 Z"/><path class="e" d="M4.1,4.7 L6,5.9 L5.8,6.6 L4.3,5.8 Z M9.9,4.7 L8,5.9 L8.2,6.6 L9.7,5.8 Z"/></svg><svg class="b1" viewBox="0 0 14 12" width="14" height="12"><path d="M1.4,0 C0.5,0.8 -0.3,2.1 0.3,3.1 C0.9,4.1 2.2,4 3,3.8 L3,6.2 L4.8,9.4 L5,10.9 C5.4,11.9 6.3,12.1 7,12.1 C7.7,12.1 8.6,11.9 9,10.9 L9.2,9.4 L11,6.2 L11,3.8 C11.8,4 13.1,4.1 13.7,3.1 C14.3,2.1 13.5,0.8 12.6,0 C12.4,1 12.3,2 11.5,2.4 C10.5,2.2 9,1.9 7,1.9 C5,1.9 3.5,2.2 2.5,2.4 C1.7,2 1.6,1 1.4,0 Z"/><path class="e" d="M4.1,4.7 L6,5.9 L5.8,6.6 L4.3,5.8 Z M9.9,4.7 L8,5.9 L8.2,6.6 L9.7,5.8 Z"/></svg><svg class="b0" viewBox="0 0 14 12" width="14" height="12"><path d="M1.4,0 C0.5,0.8 -0.3,2.1 0.3,3.1 C0.9,4.1 2.2,4 3,3.8 L3,6.2 L4.8,9.4 L5,10.9 C5.4,11.9 6.3,12.1 7,12.1 C7.7,12.1 8.6,11.9 9,10.9 L9.2,9.4 L11,6.2 L11,3.8 C11.8,4 13.1,4.1 13.7,3.1 C14.3,2.1 13.5,0.8 12.6,0 C12.4,1 12.3,2 11.5,2.4 C10.5,2.2 9,1.9 7,1.9 C5,1.9 3.5,2.2 2.5,2.4 C1.7,2 1.6,1 1.4,0 Z"/><path class="e" d="M4.1,4.7 L6,5.9 L5.8,6.6 L4.3,5.8 Z M9.9,4.7 L8,5.9 L8.2,6.6 L9.7,5.8 Z"/></svg></span><span class="ev">Core PCE Price Index (MoM) (Mar)</span><span class="a"></span><span class="f">0.3%</span><span class="p">0.4%</span></div>
<div class="r"><span class="t">20:30</span><svg class="fl" viewBox="0 0 14 11" width="14" height="11"><rect width="14" height="11" fill="#fff"/><rect y="0" width="14" height="1" fill="#e9606b"/><rect y="2" width="14" height="1" fill="#e65764"/><rect y="4" width="14" height="1" fill="#e24858"/><rect y="6" width="14" height="1" fill="#de3448"/><rect y="8" width="14" height="1" fill="#d9283b"/><rect y="10" width="14" height="1" fill="#b41f32"/><rect width="8" height="7" fill="#343f9a"/><g fill="#b9bfe6"><rect x="1" y="0" width="1" height="1"/><rect x="3" y="0" width="1" height="1"/><rect x="5" y="0" width="1" height="1"/><rect x="7" y="0" width="1" height="1"/><rect x="0" y="1" width="1" height="1"/><rect x="2" y="1" width="1" height="1"/><rect x="4" y="1" width="1" height="1"/><rect x="6" y="1" width="1" height="1"/><rect x="1" y="2" width="1" height="1"/><rect x="3" y="2" width="1" height="1"/><rect x="5" y="2" width="1" height="1"/><rect x="7" y="2" width="1" height="1"/><rect x="0" y="3" width="1" height="1"/><rect x="2" y="3" width="1" height="1"/><rect x="4" y="3" width="1" height="1"/><rect x="6" y="3" width="1" height="1"/><rect x="1" y="4" width="1" height="1"/><rect x="3" y="4" width="1" height="1"/><rect x="5" y="4" width="1" height="1"/><rect x="7" y="4" width="1" height="1"/><rect x="0" y="5" width="1" height="1"/><rect x="2" y="5" width="1" height="1"/><rect x="4" y="5" width="1" height="1"/><rect x="6" y="5" width="1" height="1"/><rect x="1" y="6" width="1" height="1"/><rect x="3" y="6" width="1" height="1"/><rect x="5" y="6" width="1" height="1"/><rect x="7" y="6" width="1" height="1"/></g></svg><span class="c">USD</span><span class="imp"><svg class="b1" viewBox="0 0 14 12" width="14" height="12"><path d="M1.4,0 C0.5,0.8 -0.3,2.1 0.3,3.1 C0.9,4.1 2.2,4 3,3.8 L3,6.2 L4.8,9.4 L5,10.9 C5.4,11.9 6.3,12.1 7,12.1 C7.7,12.1 8.6,11.9 9,10.9 L9.2,9.4 L11,6.2 L11,3.8 C11.8,4 13.1,4.1 13.7,3.1 C14.3,2.1 13.5,0.8 12.6,0 C12.4,1 12.3,2 11.5,2.4 C10.5,2.2 9,1.9 7,1.9 C5,1.9 3.5,2.2 2.5,2.4 C1.7,2 1.6,1 1.4,0 Z"/><path class="e" d="M4.1,4.7 L6,5.9 L5.8,6.6 L4.3,5.8 Z M9.9,4.7 L8,5.9 L8.2,6.6 L9.7,5.8 Z"/></svg><svg class="b1" viewBox="0 0 14 12" width="14" height="12"><path d="M1.4,0 C0.5,0.8 -0.3,2.1 0.3,3.1 C0.9,4.1 2.2,4 3,3.8 L3,6.2 L4.8,9.4 L5,10.9 C5.4,11.9 6.3,12.1 7,12.1 C7.7,12.1 8.6,11.9 9,10.9 L9.2,9.4 L11,6.2 L11,3.8 C11.8,4 13.1,4.1 13.7,3.1 C14.3,2.1 13.5,0.8 12.6,0 C12.4,1 12.3,2 11.5,2.4 C10.5,2.2 9,1.9 7,1.9 C5,1.9 3.5,2.2 2.5,2.4 C1.7,2 1.6,1 1.4,0 Z"/><path class="e" d="M4.1,4.7 L6,5.9 L5.8,6.6 L4.3,5.8 Z M9.9,4.7 L8,5.9 L8.2,6.6 L9.7,5.8 Z"/></svg><svg class="b0" viewBox="0 0 14 12" width="14" height="12"><path d="M1.4,0 C0.5,0.8 -0.3,2.1 0.3,3.1 C0.9,4.1 2.2,4 3,3.8 L3,6.2 L4.8,9.4 L5,10.9 C5.4,11.9 6.3,12.1 7,12.1 C7.7,12.1 8.6,11.9 9,10.9 L9.2,9.4 L11,6.2 L11,3.8 C11.8,4 13.1,4.1 13.7,3.1 C14.3,2.1 13.5,0.8 12.6,0 C12.4,1 12.3,2 11.5,2.4 C10.5,2.2 9,1.9 7,1.9 C5,1.9 3.5,2.2 2.5,2.4 C1.7,2 1.6,1 1.4,0 Z"/><path class="e" d="M4.1,4.7 L6,5.9 L5.8,6.6 L4.3,5.8 Z M9.9,4.7 L8,5.9 L8.2,6.6 L9.7,5.8 Z"/></svg></span><span class="ev">Employment Cost Index (QoQ) (Q1)</span><span class="a"></span><span class="f">1.1%</span><span class="p">1.0%</span></div>
<div class="r"><span class="t">20:30</span><svg class="fl" viewBox="0 0 14 11" width="14" height="11"><rect width="14" height="11" fill="#fff"/><rect y="0" width="14" height="1" fill="#e9606b"/><rect y="2" width="14" height="1" fill="#e65764"/><rect y="4" width="14" height="1" fill="#e24858"/><rect y="6" width="14" height="1" fill="#de3448"/><rect y="8" width="14" height="1" fill="#d9283b"/><rect y="10" width="14" height="1" fill="#b41f32"/><rect width="8" height="7" fill="#343f9a"/><g fill="#b9bfe6"><rect x="1" y="0" width="1" height="1"/><rect x="3" y="0" width="1" height="1"/><rect x="5" y="0" width="1" height="1"/><rect x="7" y="0" width="1" height="1"/><rect x="0" y="1" width="1" height="1"/><rect x="2" y="1" width="1" height="1"/><rect x="4" y="1" width="1" height="1"/><rect x="6" y="1" width="1" height="1"/><rect x="1" y="2" width="1" height="1"/><rect x="3" y="2" width="1" height="1"/><rect x="5" y="2" width="1" height="1"/><rect x="7" y="2" width="1" height="1"/><rect x="0" y="3" width="1" height="1"/><rect x="2" y="3" width="1" height="1"/><rect x="4" y="3" width="1" height="1"/><rect x="6" y="3" width="1" height="1"/><rect x="1" y="4" width="1" height="1"/><rect x="3" y="4" width="1" height="1"/><rect x="5" y="4" width="1" height="1"/><rect x="7" y="4" width="1" height="1"/><rect x="0" y="5" width="1" height="1"/><rect x="2" y="5" width="1" height="1"/><rect x="4" y="5" width="1" height="1"/><rect x="6" y="5" width="1" height="1"/><rect x="1" y="6" width="1" height="1"/><rect x="3" y="6" width="1" height="1"/><rect x="5" y="6" width="1" height="1"/><rect x="7" y="6" width="1" height="1"/></g></svg><span class="c">USD</span><span class="imp"><svg class="b1" viewBox="0 0 14 12" width="14" height="12"><path d="M1.4,0 C0.5,0.8 -0.3,2.1 0.3,3.1 C0.9,4.1 2.2,4 3,3.8 L3,6.2 L4.8,9.4 L5,10.9 C5.4,11.9 6.3,12.1 7,12.1 C7.7,12.1 8.6,11.9 9,10.9 L9.2,9.4 L11,6.2 L11,3.8 C11.8,4 13.1,4.1 13.7,3.1 C14.3,2.1 13.5,0.8 12.6,0 C12.4,1 12.3,2 11.5,2.4 C10.5,2.2 9,1.9 7,1.9 C5,1.9 3.5,2.2 2.5,2.4 C1.7,2 1.6,1 1.4,0 Z"/><path class="e" d="M4.1,4.7 L6,5.9 L5.8,6.6 L4.3,5.8 Z M9.9,4.7 L8,5.9 L8.2,6.6 L9.7,5.8 Z"/></svg><svg class="b1" viewBox="0 0 14 12" width="14" height="12"><path d="M1.4,0 C0.5,0.8 -0.3,2.1 0.3,3.1 C0.9,4.1 2.2,4 3,3.8 L3,6.2 L4.8,9.4 L5,10.9 C5.4,11.9 6.3,12.1 7,12.1 C7.7,12.1 8.6,11.9 9,10.9 L9.2,9.4 L11,6.2 L11,3.8 C11.8,4 13.1,4.1 13.7,3.1 C14.3,2.1 13.5,0.8 12.6,0 C12.4,1 12.3,2 11.5,2.4 C10.5,2.2 9,1.9 7,1.9 C5,1.9 3.5,2.2 2.5,2.4 C1.7,2 1.6,1 1.4,0 Z"/><path class="e" d="M4.1,4.7 L6,5.9 L5.8,6.6 L4.3,5.8 Z M9.9,4.7 L8,5.9 L8.2,6.6 L9.7,5.8 Z"/></svg><svg class="b0" viewBox="0 0 14 12" width="14" height="12"><path d="M1.4,0 C0.5,0.8 -0.3,2.1 0.3,3.1 C0.9,4.1 2.2,4 3,3.8 L3,6.2 L4.8,9.4 L5,10.9 C5.4,11.9 6.3,12.1 7,12.1 C7.7,12.1 8.6,11.9 9,10.9 L9.2,9.4 L11,6.2 L11,3.8 C11.8,4 13.1,4.1 13.7,3.1 C14.3,2.1 13.5,0.8 12.6,0 C12.4,1 12.3,2 11.5,2.4 C10.5,2.2 9,1.9 7,1.9 C5,1.9 3.5,2.2 2.5,2.4 C1.7,2 1.6,1 1.4,0 Z"/><path class="e" d="M4.1,4.7 L6,5.9 L5.8,6.6 L4.3,5.8 Z M9.9,4.7 L8,5.9 L8.2,6.6 L9.7,5.8 Z"/></svg></span><span class="ev">PCE price index (MoM) (Mar)</span><span class="a"></span><span class="f"></span><span class="p">0.6%</span></div>
<div class="r"><span class="t">20:30</span><svg class="fl" viewBox="0 0 14 11" width="14" height="11"><rect width="14" height="11" fill="#fff"/><rect y="0" width="14" height="1" fill="#e9606b"/><rect y="2" width="14" height="1" fill="#e65764"/><rect y="4" width="14" height="1" fill="#e24858"/><rect y="6" width="14" height="1" fill="#de3448"/><rect y="8" width="14" height="1" fill="#d9283b"/><rect y="10" width="14" height="1" fill="#b41f32"/><rect width="8" height="7" fill="#343f9a"/><g fill="#b9bfe6"><rect x="1" y="0" width="1" height="1"/><rect x="3" y="0" width="1" height="1"/><rect x="5" y="0" width="1" height="1"/><rect x="7" y="0" width="1" height="1"/><rect x="0" y="1" width="1" height="1"/><rect x="2" y="1" width="1" height="1"/><rect x="4" y="1" width="1" height="1"/><rect x="6" y="1" width="1" height="1"/><rect x="1" y="2" width="1" height="1"/><rect x="3" y="2" width="1" height="1"/><rect x="5" y="2" width="1" height="1"/><rect x="7" y="2" width="1" height="1"/><rect x="0" y="3" width="1" height="1"/><rect x="2" y="3" width="1" height="1"/><rect x="4" y="3" width="1" height="1"/><rect x="6" y="3" width="1" height="1"/><rect x="1" y="4" width="1" height="1"/><rect x="3" y="4" width="1" height="1"/><rect x="5" y="4" width="1" height="1"/><rect x="7" y="4" width="1" height="1"/><rect x="0" y="5" width="1" height="1"/><rect x="2" y="5" width="1" height="1"/><rect x="4" y="5" width="1" height="1"/><rect x="6" y="5" width="1" height="1"/><rect x="1" y="6" width="1" height="1"/><rect x="3" y="6" width="1" height="1"/><rect x="5" y="6" width="1" height="1"/><rect x="7" y="6" width="1" height="1"/></g></svg><span class="c">USD</span><span class="imp"><svg class="b1" viewBox="0 0 14 12" width="14" height="12"><path d="M1.4,0 C0.5,0.8 -0.3,2.1 0.3,3.1 C0.9,4.1 2.2,4 3,3.8 L3,6.2 L4.8,9.4 L5,10.9 C5.4,11.9 6.3,12.1 7,12.1 C7.7,12.1 8.6,11.9 9,10.9 L9.2,9.4 L11,6.2 L11,3.8 C11.8,4 13.1,4.1 13.7,3.1 C14.3,2.1 13.5,0.8 12.6,0 C12.4,1 12.3,2 11.5,2.4 C10.5,2.2 9,1.9 7,1.9 C5,1.9 3.5,2.2 2.5,2.4 C1.7,2 1.6,1 1.4,0 Z"/><path class="e" d="M4.1,4.7 L6,5.9 L5.8,6.6 L4.3,5.8 Z M9.9,4.7 L8,5.9 L8.2,6.6 L9.7,5.8 Z"/></svg><svg class="b1" viewBox="0 0 14 12" width="14" height="12"><path d="M1.4,0 C0.5,0.8 -0.3,2.1 0.3,3.1 C0.9,4.1 2.2,4 3,3.8 L3,6.2 L4.8,9.4 L5,10.9 C5.4,11.9 6.3,12.1 7,12.1 C7.7,12.1 8.6,11.9 9,10.9 L9.2,9.4 L11,6.2 L11,3.8 C11.8,4 13.1,4.1 13.7,3.1 C14.3,2.1 13.5,0.8 12.6,0 C12.4,1 12.3,2 11.5,2.4 C10.5,2.2 9,1.9 7,1.9 C5,1.9 3.5,2.2 2.5,2.4 C1.7,2 1.6,1 1.4,0 Z"/><path class="e" d="M4.1,4.7 L6,5.9 L5.8,6.6 L4.3,5.8 Z M9.9,4.7 L8,5.9 L8.2,6.6 L9.7,5.8 Z"/></svg><svg class="b0" viewBox="0 0 14 12" width="14" height="12"><path d="M1.4,0 C0.5,0.8 -0.3,2.1 0.3,3.1 C0.9,4.1 2.2,4 3,3.8 L3,6.2 L4.8,9.4 L5,10.9 C5.4,11.9 6.3,12.1 7,12.1 C7.7,12.1 8.6,11.9 9,10.9 L9.2,9.4 L11,6.2 L11,3.8 C11.8,4 13.1,4.1 13.7,3.1 C14.3,2.1 13.5,0.8 12.6,0 C12.4,1 12.3,2 11.5,2.4 C10.5,2.2 9,1.9 7,1.9 C5,1.9 3.5,2.2 2.5,2.4 C1.7,2 1.6,1 1.4,0 Z"/><path class="e" d="M4.1,4.7 L6,5.9 L5.8,6.6 L4.3,5.8 Z M9.9,4.7 L8,5.9 L8.2,6.6 L9.7,5.8 Z"/></svg></span><span class="ev">PCE Price index (YoY) (Mar)</span><span class="a"></span><span class="f"></span><span class="p">6.4</span></div>
<div class="r"><span class="t">20:30</span><svg class="fl" viewBox="0 0 14 11" width="14" height="11"><rect width="14" height="11" fill="#fff"/><rect y="0" width="14" height="1" fill="#e9606b"/><rect y="2" width="14" height="1" fill="#e65764"/><rect y="4" width="14" height="1" fill="#e24858"/><rect y="6" width="14" height="1" fill="#de3448"/><rect y="8" width="14" height="1" fill="#d9283b"/><rect y="10" width="14" height="1" fill="#b41f32"/><rect width="8" height="7" fill="#343f9a"/><g fill="#b9bfe6"><rect x="1" y="0" width="1" height="1"/><rect x="3" y="0" width="1" height="1"/><rect x="5" y="0" width="1" height="1"/><rect x="7" y="0" width="1" height="1"/><rect x="0" y="1" width="1" height="1"/><rect x="2" y="1" width="1" height="1"/><rect x="4" y="1" width="1" height="1"/><rect x="6" y="1" width="1" height="1"/><rect x="1" y="2" width="1" height="1"/><rect x="3" y="2" width="1" height="1"/><rect x="5" y="2" width="1" height="1"/><rect x="7" y="2" width="1" height="1"/><rect x="0" y="3" width="1" height="1"/><rect x="2" y="3" width="1" height="1"/><rect x="4" y="3" width="1" height="1"/><rect x="6" y="3" width="1" height="1"/><rect x="1" y="4" width="1" height="1"/><rect x="3" y="4" width="1" height="1"/><rect x="5" y="4" width="1" height="1"/><rect x="7" y="4" width="1" height="1"/><rect x="0" y="5" width="1" height="1"/><rect x="2" y="5" width="1" height="1"/><rect x="4" y="5" width="1" height="1"/><rect x="6" y="5" width="1" height="1"/><rect x="1" y="6" width="1" height="1"/><rect x="3" y="6" width="1" height="1"/><rect x="5" y="6" width="1" height="1"/><rect x="7" y="6" width="1" height="1"/></g></svg><span class="c">USD</span><span class="imp"><svg class="b1" viewBox="0 0 14 12" width="14" height="12"><path d="M1.4,0 C0.5,0.8 -0.3,2.1 0.3,3.1 C0.9,4.1 2.2,4 3,3.8 L3,6.2 L4.8,9.4 L5,10.9 C5.4,11.9 6.3,12.1 7,12.1 C7.7,12.1 8.6,11.9 9,10.9 L9.2,9.4 L11,6.2 L11,3.8 C11.8,4 13.1,4.1 13.7,3.1 C14.3,2.1 13.5,0.8 12.6,0 C12.4,1 12.3,2 11.5,2.4 C10.5,2.2 9,1.9 7,1.9 C5,1.9 3.5,2.2 2.5,2.4 C1.7,2 1.6,1 1.4,0 Z"/><path class="e" d="M4.1,4.7 L6,5.9 L5.8,6.6 L4.3,5.8 Z M9.9,4.7 L8,5.9 L8.2,6.6 L9.7,5.8 Z"/></svg><svg class="b1" viewBox="0 0 14 12" width="14" height="12"><path d="M1.4,0 C0.5,0.8 -0.3,2.1 0.3,3.1 C0.9,4.1 2.2,4 3,3.8 L3,6.2 L4.8,9.4 L5,10.9 C5.4,11.9 6.3,12.1 7,12.1 C7.7,12.1 8.6,11.9 9,10.9 L9.2,9.4 L11,6.2 L11,3.8 C11.8,4 13.1,4.1 13.7,3.1 C14.3,2.1 13.5,0.8 12.6,0 C12.4,1 12.3,2 11.5,2.4 C10.5,2.2 9,1.9 7,1.9 C5,1.9 3.5,2.2 2.5,2.4 C1.7,2 1.6,1 1.4,0 Z"/><path class="e" d="M4.1,4.7 L6,5.9 L5.8,6.6 L4.3,5.8 Z M9.9,4.7 L8,5.9 L8.2,6.6 L9.7,5.8 Z"/></svg><svg class="b0" viewBox="0 0 14 12" width="14" height="12"><path d="M1.4,0 C0.5,0.8 -0.3,2.1 0.3,3.1 C0.9,4.1 2.2,4 3,3.8 L3,6.2 L4.8,9.4 L5,10.9 C5.4,11.9 6.3,12.1 7,12.1 C7.7,12.1 8.6,11.9 9,10.9 L9.2,9.4 L11,6.2 L11,3.8 C11.8,4 13.1,4.1 13.7,3.1 C14.3,2.1 13.5,0.8 12.6,0 C12.4,1 12.3,2 11.5,2.4 C10.5,2.2 9,1.9 7,1.9 C5,1.9 3.5,2.2 2.5,2.4 C1.7,2 1.6,1 1.4,0 Z"/><path class="e" d="M4.1,4.7 L6,5.9 L5.8,6.6 L4.3,5.8 Z M9.9,4.7 L8,5.9 L8.2,6.6 L9.7,5.8 Z"/></svg></span><span class="ev">Personal Spending (MoM) (Mar)</span><span class="a"></span><span class="f">0.6%</span><span class="p">0.2%</span></div>
<div class="r"><span class="t">21:45</span><svg class="fl" viewBox="0 0 14 11" width="14" height="11"><rect width="14" height="11" fill="#fff"/><rect y="0" width="14" height="1" fill="#e9606b"/><rect y="2" width="14" height="1" fill="#e65764"/><rect y="4" width="14" height="1" fill="#e24858"/><rect y="6" width="14" height="1" fill="#de3448"/><rect y="8" width="14" height="1" fill="#d9283b"/><rect y="10" width="14" height="1" fill="#b41f32"/><rect width="8" height="7" fill="#343f9a"/><g fill="#b9bfe6"><rect x="1" y="0" width="1" height="1"/><rect x="3" y="0" width="1" height="1"/><rect x="5" y="0" width="1" height="1"/><rect x="7" y="0" width="1" height="1"/><rect x="0" y="1" width="1" height="1"/><rect x="2" y="1" width="1" height="1"/><rect x="4" y="1" width="1" height="1"/><rect x="6" y="1" width="1" height="1"/><rect x="1" y="2" width="1" height="1"/><rect x="3" y="2" width="1" height="1"/><rect x="5" y="2" width="1" height="1"/><rect x="7" y="2" width="1" height="1"/><rect x="0" y="3" width="1" height="1"/><rect x="2" y="3" width="1" height="1"/><rect x="4" y="3" width="1" height="1"/><rect x="6" y="3" width="1" height="1"/><rect x="1" y="4" width="1" height="1"/><rect x="3" y="4" width="1" height="1"/><rect x="5" y="4" width="1" height="1"/><rect x="7" y="4" width="1" height="1"/><rect x="0" y="5" width="1" height="1"/><rect x="2" y="5" width="1" height="1"/><rect x="4" y="5" width="1" height="1"/><rect x="6" y="5" width="1" height="1"/><rect x="1" y="6" width="1" height="1"/><rect x="3" y="6" width="1" height="1"/><rect x="5" y="6" width="1" height="1"/><rect x="7" y="6" width="1" height="1"/></g></svg><span class="c">USD</span><span class="imp"><svg class="b1" viewBox="0 0 14 12" width="14" height="12"><path d="M1.4,0 C0.5,0.8 -0.3,2.1 0.3,3.1 C0.9,4.1 2.2,4 3,3.8 L3,6.2 L4.8,9.4 L5,10.9 C5.4,11.9 6.3,12.1 7,12.1 C7.7,12.1 8.6,11.9 9,10.9 L9.2,9.4 L11,6.2 L11,3.8 C11.8,4 13.1,4.1 13.7,3.1 C14.3,2.1 13.5,0.8 12.6,0 C12.4,1 12.3,2 11.5,2.4 C10.5,2.2 9,1.9 7,1.9 C5,1.9 3.5,2.2 2.5,2.4 C1.7,2 1.6,1 1.4,0 Z"/><path class="e" d="M4.1,4.7 L6,5.9 L5.8,6.6 L4.3,5.8 Z M9.9,4.7 L8,5.9 L8.2,6.6 L9.7,5.8 Z"/></svg><svg class="b1" viewBox="0 0 14 12" width="14" height="12"><path d="M1.4,0 C0.5,0.8 -0.3,2.1 0.3,3.1 C0.9,4.1 2.2,4 3,3.8 L3,6.2 L4.8,9.4 L5,10.9 C5.4,11.9 6.3,12.1 7,12.1 C7.7,12.1 8.6,11.9 9,10.9 L9.2,9.4 L11,6.2 L11,3.8 C11.8,4 13.1,4.1 13.7,3.1 C14.3,2.1 13.5,0.8 12.6,0 C12.4,1 12.3,2 11.5,2.4 C10.5,2.2 9,1.9 7,1.9 C5,1.9 3.5,2.2 2.5,2.4 C1.7,2 1.6,1 1.4,0 Z"/><path class="e" d="M4.1,4.7 L6,5.9 L5.8,6.6 L4.3,5.8 Z M9.9,4.7 L8,5.9 L8.2,6.6 L9.7,5.8 Z"/></svg><svg class="b0" viewBox="0 0 14 12" width="14" height="12"><path d="M1.4,0 C0.5,0.8 -0.3,2.1 0.3,3.1 C0.9,4.1 2.2,4 3,3.8 L3,6.2 L4.8,9.4 L5,10.9 C5.4,11.9 6.3,12.1 7,12.1 C7.7,12.1 8.6,11.9 9,10.9 L9.2,9.4 L11,6.2 L11,3.8 C11.8,4 13.1,4.1 13.7,3.1 C14.3,2.1 13.5,0.8 12.6,0 C12.4,1 12.3,2 11.5,2.4 C10.5,2.2 9,1.9 7,1.9 C5,1.9 3.5,2.2 2.5,2.4 C1.7,2 1.6,1 1.4,0 Z"/><path class="e" d="M4.1,4.7 L6,5.9 L5.8,6.6 L4.3,5.8 Z M9.9,4.7 L8,5.9 L8.2,6.6 L9.7,5.8 Z"/></svg></span><span class="ev">Chicago PMI (Apr)</span><span class="a"></span><span class="f">62.0</span><span class="p">62.9</span></div>
<div class="r"><span class="t">22:00</span><svg class="fl" viewBox="0 0 14 11" width="14" height="11"><rect width="14" height="11" fill="#fff"/><rect y="0" width="14" height="1" fill="#e9606b"/><rect y="2" width="14" height="1" fill="#e65764"/><rect y="4" width="14" height="1" fill="#e24858"/><rect y="6" width="14" height="1" fill="#de3448"/><rect y="8" width="14" height="1" fill="#d9283b"/><rect y="10" width="14" height="1" fill="#b41f32"/><rect width="8" height="7" fill="#343f9a"/><g fill="#b9bfe6"><rect x="1" y="0" width="1" height="1"/><rect x="3" y="0" width="1" height="1"/><rect x="5" y="0" width="1" height="1"/><rect x="7" y="0" width="1" height="1"/><rect x="0" y="1" width="1" height="1"/><rect x="2" y="1" width="1" height="1"/><rect x="4" y="1" width="1" height="1"/><rect x="6" y="1" width="1" height="1"/><rect x="1" y="2" width="1" height="1"/><rect x="3" y="2" width="1" height="1"/><rect x="5" y="2" width="1" height="1"/><rect x="7" y="2" width="1" height="1"/><rect x="0" y="3" width="1" height="1"/><rect x="2" y="3" width="1" height="1"/><rect x="4" y="3" width="1" height="1"/><rect x="6" y="3" width="1" height="1"/><rect x="1" y="4" width="1" height="1"/><rect x="3" y="4" width="1" height="1"/><rect x="5" y="4" width="1" height="1"/><rect x="7" y="4" width="1" height="1"/><rect x="0" y="5" width="1" height="1"/><rect x="2" y="5" width="1" height="1"/><rect x="4" y="5" width="1" height="1"/><rect x="6" y="5" width="1" height="1"/><rect x="1" y="6" width="1" height="1"/><rect x="3" y="6" width="1" height="1"/><rect x="5" y="6" width="1" height="1"/><rect x="7" y="6" width="1" height="1"/></g></svg><span class="c">USD</span><span class="imp"><svg class="b1" viewBox="0 0 14 12" width="14" height="12"><path d="M1.4,0 C0.5,0.8 -0.3,2.1 0.3,3.1 C0.9,4.1 2.2,4 3,3.8 L3,6.2 L4.8,9.4 L5,10.9 C5.4,11.9 6.3,12.1 7,12.1 C7.7,12.1 8.6,11.9 9,10.9 L9.2,9.4 L11,6.2 L11,3.8 C11.8,4 13.1,4.1 13.7,3.1 C14.3,2.1 13.5,0.8 12.6,0 C12.4,1 12.3,2 11.5,2.4 C10.5,2.2 9,1.9 7,1.9 C5,1.9 3.5,2.2 2.5,2.4 C1.7,2 1.6,1 1.4,0 Z"/><path class="e" d="M4.1,4.7 L6,5.9 L5.8,6.6 L4.3,5.8 Z M9.9,4.7 L8,5.9 L8.2,6.6 L9.7,5.8 Z"/></svg><svg class="b1" viewBox="0 0 14 12" width="14" height="12"><path d="M1.4,0 C0.5,0.8 -0.3,2.1 0.3,3.1 C0.9,4.1 2.2,4 3,3.8 L3,6.2 L4.8,9.4 L5,10.9 C5.4,11.9 6.3,12.1 7,12.1 C7.7,12.1 8.6,11.9 9,10.9 L9.2,9.4 L11,6.2 L11,3.8 C11.8,4 13.1,4.1 13.7,3.1 C14.3,2.1 13.5,0.8 12.6,0 C12.4,1 12.3,2 11.5,2.4 C10.5,2.2 9,1.9 7,1.9 C5,1.9 3.5,2.2 2.5,2.4 C1.7,2 1.6,1 1.4,0 Z"/><path class="e" d="M4.1,4.7 L6,5.9 L5.8,6.6 L4.3,5.8 Z M9.9,4.7 L8,5.9 L8.2,6.6 L9.7,5.8 Z"/></svg><svg class="b0" viewBox="0 0 14 12" width="14" height="12"><path d="M1.4,0 C0.5,0.8 -0.3,2.1 0.3,3.1 C0.9,4.1 2.2,4 3,3.8 L3,6.2 L4.8,9.4 L5,10.9 C5.4,11.9 6.3,12.1 7,12.1 C7.7,12.1 8.6,11.9 9,10.9 L9.2,9.4 L11,6.2 L11,3.8 C11.8,4 13.1,4.1 13.7,3.1 C14.3,2.1 13.5,0.8 12.6,0 C12.4,1 12.3,2 11.5,2.4 C10.5,2.2 9,1.9 7,1.9 C5,1.9 3.5,2.2 2.5,2.4 C1.7,2 1.6,1 1.4,0 Z"/><path class="e" d="M4.1,4.7 L6,5.9 L5.8,6.6 L4.3,5.8 Z M9.9,4.7 L8,5.9 L8.2,6.6 L9.7,5.8 Z"/></svg></span><span class="ev">Michigan Consumer Expectations (Apr)</span><span class="a"></span><span class="f"></span><span class="p">64.1</span></div>
<div class="r"><span class="t">22:00</span><svg class="fl" viewBox="0 0 14 11" width="14" height="11"><rect width="14" height="11" fill="#fff"/><rect y="0" width="14" height="1" fill="#e9606b"/><rect y="2" width="14" height="1" fill="#e65764"/><rect y="4" width="14" height="1" fill="#e24858"/><rect y="6" width="14" height="1" fill="#de3448"/><rect y="8" width="14" height="1" fill="#d9283b"/><rect y="10" width="14" height="1" fill="#b41f32"/><rect width="8" height="7" fill="#343f9a"/><g fill="#b9bfe6"><rect x="1" y="0" width="1" height="1"/><rect x="3" y="0" width="1" height="1"/><rect x="5" y="0" width="1" height="1"/><rect x="7" y="0" width="1" height="1"/><rect x="0" y="1" width="1" height="1"/><rect x="2" y="1" width="1" height="1"/><rect x="4" y="1" width="1" height="1"/><rect x="6" y="1" width="1" height="1"/><rect x="1" y="2" width="1" height="1"/><rect x="3" y="2" width="1" height="1"/><rect x="5" y="2" width="1" height="1"/><rect x="7" y="2" width="1" height="1"/><rect x="0" y="3" width="1" height="1"/><rect x="2" y="3" width="1" height="1"/><rect x="4" y="3" width="1" height="1"/><rect x="6" y="3" width="1" height="1"/><rect x="1" y="4" width="1" height="1"/><rect x="3" y="4" width="1" height="1"/><rect x="5" y="4" width="1" height="1"/><rect x="7" y="4" width="1" height="1"/><rect x="0" y="5" width="1" height="1"/><rect x="2" y="5" width="1" height="1"/><rect x="4" y="5" width="1" height="1"/><rect x="6" y="5" width="1" height="1"/><rect x="1" y="6" width="1" height="1"/><rect x="3" y="6" width="1" height="1"/><rect x="5" y="6" width="1" height="1"/><rect x="7" y="6" width="1" height="1"/></g></svg><span class="c">USD</span><span class="imp"><svg class="b1" viewBox="0 0 14 12" width="14" height="12"><path d="M1.4,0 C0.5,0.8 -0.3,2.1 0.3,3.1 C0.9,4.1 2.2,4 3,3.8 L3,6.2 L4.8,9.4 L5,10.9 C5.4,11.9 6.3,12.1 7,12.1 C7.7,12.1 8.6,11.9 9,10.9 L9.2,9.4 L11,6.2 L11,3.8 C11.8,4 13.1,4.1 13.7,3.1 C14.3,2.1 13.5,0.8 12.6,0 C12.4,1 12.3,2 11.5,2.4 C10.5,2.2 9,1.9 7,1.9 C5,1.9 3.5,2.2 2.5,2.4 C1.7,2 1.6,1 1.4,0 Z"/><path class="e" d="M4.1,4.7 L6,5.9 L5.8,6.6 L4.3,5.8 Z M9.9,4.7 L8,5.9 L8.2,6.6 L9.7,5.8 Z"/></svg><svg class="b1" viewBox="0 0 14 12" width="14" height="12"><path d="M1.4,0 C0.5,0.8 -0.3,2.1 0.3,3.1 C0.9,4.1 2.2,4 3,3.8 L3,6.2 L4.8,9.4 L5,10.9 C5.4,11.9 6.3,12.1 7,12.1 C7.7,12.1 8.6,11.9 9,10.9 L9.2,9.4 L11,6.2 L11,3.8 C11.8,4 13.1,4.1 13.7,3.1 C14.3,2.1 13.5,0.8 12.6,0 C12.4,1 12.3,2 11.5,2.4 C10.5,2.2 9,1.9 7,1.9 C5,1.9 3.5,2.2 2.5,2.4 C1.7,2 1.6,1 1.4,0 Z"/><path class="e" d="M4.1,4.7 L6,5.9 L5.8,6.6 L4.3,5.8 Z M9.9,4.7 L8,5.9 L8.2,6.6 L9.7,5.8 Z"/></svg><svg class="b0" viewBox="0 0 14 12" width="14" height="12"><path d="M1.4,0 C0.5,0.8 -0.3,2.1 0.3,3.1 C0.9,4.1 2.2,4 3,3.8 L3,6.2 L4.8,9.4 L5,10.9 C5.4,11.9 6.3,12.1 7,12.1 C7.7,12.1 8.6,11.9 9,10.9 L9.2,9.4 L11,6.2 L11,3.8 C11.8,4 13.1,4.1 13.7,3.1 C14.3,2.1 13.5,0.8 12.6,0 C12.4,1 12.3,2 11.5,2.4 C10.5,2.2 9,1.9 7,1.9 C5,1.9 3.5,2.2 2.5,2.4 C1.7,2 1.6,1 1.4,0 Z"/><path class="e" d="M4.1,4.7 L6,5.9 L5.8,6.6 L4.3,5.8 Z M9.9,4.7 L8,5.9 L8.2,6.6 L9.7,5.8 Z"/></svg></span><span class="ev">Michigan Consumer Sentiment (Apr)</span><span class="a"></span><span class="f">65.7</span><span class="p">65.7</span></div>
<div class="day">Saturday, April 30, 2022</div>
<div class="r first"><span class="t">01:00</span><svg class="fl" viewBox="0 0 14 11" width="14" height="11"><rect width="14" height="11" fill="#fff"/><rect y="0" width="14" height="1" fill="#e9606b"/><rect y="2" width="14" height="1" fill="#e65764"/><rect y="4" width="14" height="1" fill="#e24858"/><rect y="6" width="14" height="1" fill="#de3448"/><rect y="8" width="14" height="1" fill="#d9283b"/><rect y="10" width="14" height="1" fill="#b41f32"/><rect width="8" height="7" fill="#343f9a"/><g fill="#b9bfe6"><rect x="1" y="0" width="1" height="1"/><rect x="3" y="0" width="1" height="1"/><rect x="5" y="0" width="1" height="1"/><rect x="7" y="0" width="1" height="1"/><rect x="0" y="1" width="1" height="1"/><rect x="2" y="1" width="1" height="1"/><rect x="4" y="1" width="1" height="1"/><rect x="6" y="1" width="1" height="1"/><rect x="1" y="2" width="1" height="1"/><rect x="3" y="2" width="1" height="1"/><rect x="5" y="2" width="1" height="1"/><rect x="7" y="2" width="1" height="1"/><rect x="0" y="3" width="1" height="1"/><rect x="2" y="3" width="1" height="1"/><rect x="4" y="3" width="1" height="1"/><rect x="6" y="3" width="1" height="1"/><rect x="1" y="4" width="1" height="1"/><rect x="3" y="4" width="1" height="1"/><rect x="5" y="4" width="1" height="1"/><rect x="7" y="4" width="1" height="1"/><rect x="0" y="5" width="1" height="1"/><rect x="2" y="5" width="1" height="1"/><rect x="4" y="5" width="1" height="1"/><rect x="6" y="5" width="1" height="1"/><rect x="1" y="6" width="1" height="1"/><rect x="3" y="6" width="1" height="1"/><rect x="5" y="6" width="1" height="1"/><rect x="7" y="6" width="1" height="1"/></g></svg><span class="c">USD</span><span class="imp"><svg class="b1" viewBox="0 0 14 12" width="14" height="12"><path d="M1.4,0 C0.5,0.8 -0.3,2.1 0.3,3.1 C0.9,4.1 2.2,4 3,3.8 L3,6.2 L4.8,9.4 L5,10.9 C5.4,11.9 6.3,12.1 7,12.1 C7.7,12.1 8.6,11.9 9,10.9 L9.2,9.4 L11,6.2 L11,3.8 C11.8,4 13.1,4.1 13.7,3.1 C14.3,2.1 13.5,0.8 12.6,0 C12.4,1 12.3,2 11.5,2.4 C10.5,2.2 9,1.9 7,1.9 C5,1.9 3.5,2.2 2.5,2.4 C1.7,2 1.6,1 1.4,0 Z"/><path class="e" d="M4.1,4.7 L6,5.9 L5.8,6.6 L4.3,5.8 Z M9.9,4.7 L8,5.9 L8.2,6.6 L9.7,5.8 Z"/></svg><svg class="b1" viewBox="0 0 14 12" width="14" height="12"><path d="M1.4,0 C0.5,0.8 -0.3,2.1 0.3,3.1 C0.9,4.1 2.2,4 3,3.8 L3,6.2 L4.8,9.4 L5,10.9 C5.4,11.9 6.3,12.1 7,12.1 C7.7,12.1 8.6,11.9 9,10.9 L9.2,9.4 L11,6.2 L11,3.8 C11.8,4 13.1,4.1 13.7,3.1 C14.3,2.1 13.5,0.8 12.6,0 C12.4,1 12.3,2 11.5,2.4 C10.5,2.2 9,1.9 7,1.9 C5,1.9 3.5,2.2 2.5,2.4 C1.7,2 1.6,1 1.4,0 Z"/><path class="e" d="M4.1,4.7 L6,5.9 L5.8,6.6 L4.3,5.8 Z M9.9,4.7 L8,5.9 L8.2,6.6 L9.7,5.8 Z"/></svg><svg class="b0" viewBox="0 0 14 12" width="14" height="12"><path d="M1.4,0 C0.5,0.8 -0.3,2.1 0.3,3.1 C0.9,4.1 2.2,4 3,3.8 L3,6.2 L4.8,9.4 L5,10.9 C5.4,11.9 6.3,12.1 7,12.1 C7.7,12.1 8.6,11.9 9,10.9 L9.2,9.4 L11,6.2 L11,3.8 C11.8,4 13.1,4.1 13.7,3.1 C14.3,2.1 13.5,0.8 12.6,0 C12.4,1 12.3,2 11.5,2.4 C10.5,2.2 9,1.9 7,1.9 C5,1.9 3.5,2.2 2.5,2.4 C1.7,2 1.6,1 1.4,0 Z"/><path class="e" d="M4.1,4.7 L6,5.9 L5.8,6.6 L4.3,5.8 Z M9.9,4.7 L8,5.9 L8.2,6.6 L9.7,5.8 Z"/></svg></span><span class="ev">U.S. Baker Hughes Oil Rig Count</span><span class="a"></span><span class="f"></span><span class="p">548</span></div>
<div class="r"><span class="t">01:00</span><svg class="fl" viewBox="0 0 14 11" width="14" height="11"><rect width="14" height="11" fill="#fff"/><rect y="0" width="14" height="1" fill="#e9606b"/><rect y="2" width="14" height="1" fill="#e65764"/><rect y="4" width="14" height="1" fill="#e24858"/><rect y="6" width="14" height="1" fill="#de3448"/><rect y="8" width="14" height="1" fill="#d9283b"/><rect y="10" width="14" height="1" fill="#b41f32"/><rect width="8" height="7" fill="#343f9a"/><g fill="#b9bfe6"><rect x="1" y="0" width="1" height="1"/><rect x="3" y="0" width="1" height="1"/><rect x="5" y="0" width="1" height="1"/><rect x="7" y="0" width="1" height="1"/><rect x="0" y="1" width="1" height="1"/><rect x="2" y="1" width="1" height="1"/><rect x="4" y="1" width="1" height="1"/><rect x="6" y="1" width="1" height="1"/><rect x="1" y="2" width="1" height="1"/><rect x="3" y="2" width="1" height="1"/><rect x="5" y="2" width="1" height="1"/><rect x="7" y="2" width="1" height="1"/><rect x="0" y="3" width="1" height="1"/><rect x="2" y="3" width="1" height="1"/><rect x="4" y="3" width="1" height="1"/><rect x="6" y="3" width="1" height="1"/><rect x="1" y="4" width="1" height="1"/><rect x="3" y="4" width="1" height="1"/><rect x="5" y="4" width="1" height="1"/><rect x="7" y="4" width="1" height="1"/><rect x="0" y="5" width="1" height="1"/><rect x="2" y="5" width="1" height="1"/><rect x="4" y="5" width="1" height="1"/><rect x="6" y="5" width="1" height="1"/><rect x="1" y="6" width="1" height="1"/><rect x="3" y="6" width="1" height="1"/><rect x="5" y="6" width="1" height="1"/><rect x="7" y="6" width="1" height="1"/></g></svg><span class="c">USD</span><span class="imp"><svg class="b1" viewBox="0 0 14 12" width="14" height="12"><path d="M1.4,0 C0.5,0.8 -0.3,2.1 0.3,3.1 C0.9,4.1 2.2,4 3,3.8 L3,6.2 L4.8,9.4 L5,10.9 C5.4,11.9 6.3,12.1 7,12.1 C7.7,12.1 8.6,11.9 9,10.9 L9.2,9.4 L11,6.2 L11,3.8 C11.8,4 13.1,4.1 13.7,3.1 C14.3,2.1 13.5,0.8 12.6,0 C12.4,1 12.3,2 11.5,2.4 C10.5,2.2 9,1.9 7,1.9 C5,1.9 3.5,2.2 2.5,2.4 C1.7,2 1.6,1 1.4,0 Z"/><path class="e" d="M4.1,4.7 L6,5.9 L5.8,6.6 L4.3,5.8 Z M9.9,4.7 L8,5.9 L8.2,6.6 L9.7,5.8 Z"/></svg><svg class="b1" viewBox="0 0 14 12" width="14" height="12"><path d="M1.4,0 C0.5,0.8 -0.3,2.1 0.3,3.1 C0.9,4.1 2.2,4 3,3.8 L3,6.2 L4.8,9.4 L5,10.9 C5.4,11.9 6.3,12.1 7,12.1 C7.7,12.1 8.6,11.9 9,10.9 L9.2,9.4 L11,6.2 L11,3.8 C11.8,4 13.1,4.1 13.7,3.1 C14.3,2.1 13.5,0.8 12.6,0 C12.4,1 12.3,2 11.5,2.4 C10.5,2.2 9,1.9 7,1.9 C5,1.9 3.5,2.2 2.5,2.4 C1.7,2 1.6,1 1.4,0 Z"/><path class="e" d="M4.1,4.7 L6,5.9 L5.8,6.6 L4.3,5.8 Z M9.9,4.7 L8,5.9 L8.2,6.6 L9.7,5.8 Z"/></svg><svg class="b0" viewBox="0 0 14 12" width="14" height="12"><path d="M1.4,0 C0.5,0.8 -0.3,2.1 0.3,3.1 C0.9,4.1 2.2,4 3,3.8 L3,6.2 L4.8,9.4 L5,10.9 C5.4,11.9 6.3,12.1 7,12.1 C7.7,12.1 8.6,11.9 9,10.9 L9.2,9.4 L11,6.2 L11,3.8 C11.8,4 13.1,4.1 13.7,3.1 C14.3,2.1 13.5,0.8 12.6,0 C12.4,1 12.3,2 11.5,2.4 C10.5,2.2 9,1.9 7,1.9 C5,1.9 3.5,2.2 2.5,2.4 C1.7,2 1.6,1 1.4,0 Z"/><path class="e" d="M4.1,4.7 L6,5.9 L5.8,6.6 L4.3,5.8 Z M9.9,4.7 L8,5.9 L8.2,6.6 L9.7,5.8 Z"/></svg></span><span class="ev">U.S. Baker Hughes Total Rig Count</span><span class="a"></span><span class="f"></span><span class="p">693</span></div>
</div>
<div id="ft"></div>
</body></html>
